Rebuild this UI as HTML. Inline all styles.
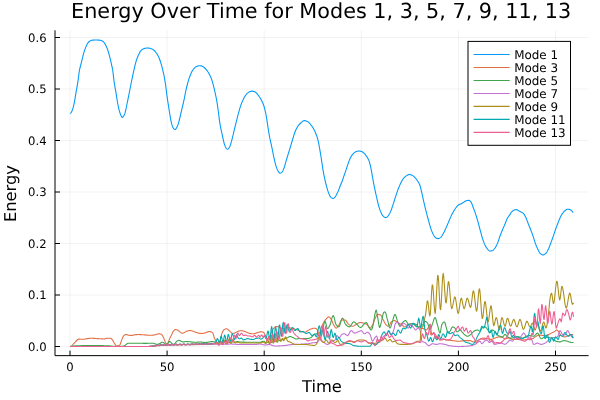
<!DOCTYPE html>
<html lang="en"><head><meta charset="utf-8"><title>Energy Over Time for Modes 1, 3, 5, 7, 9, 11, 13</title>
<style>
html,body{margin:0;padding:0;background:#fff;}
body{width:600px;height:400px;overflow:hidden;}
svg{display:block;will-change:transform;transform:translateZ(0);}
text{font-family:"DejaVu Sans","Liberation Sans",sans-serif;fill:#000;text-rendering:geometricPrecision;}
.grid line{stroke:#000;stroke-opacity:0.1;stroke-width:0.5;}
.axis line{stroke:#000;stroke-width:1;}
.series path{fill:none;stroke-width:1.08;stroke-linejoin:round;stroke-linecap:butt;}
</style></head><body>
<svg width="600" height="400" viewBox="0 0 600 400">
<rect x="0" y="0" width="600" height="400" fill="#ffffff"/>
<g class="grid">
<line x1="70.00" y1="30.3" x2="70.00" y2="355.65"/>
<line x1="167.10" y1="30.3" x2="167.10" y2="355.65"/>
<line x1="264.20" y1="30.3" x2="264.20" y2="355.65"/>
<line x1="361.30" y1="30.3" x2="361.30" y2="355.65"/>
<line x1="458.40" y1="30.3" x2="458.40" y2="355.65"/>
<line x1="555.50" y1="30.3" x2="555.50" y2="355.65"/>
<line x1="55.0" y1="346.50" x2="588.6" y2="346.50"/>
<line x1="55.0" y1="295.00" x2="588.6" y2="295.00"/>
<line x1="55.0" y1="243.50" x2="588.6" y2="243.50"/>
<line x1="55.0" y1="192.00" x2="588.6" y2="192.00"/>
<line x1="55.0" y1="140.50" x2="588.6" y2="140.50"/>
<line x1="55.0" y1="89.00" x2="588.6" y2="89.00"/>
<line x1="55.0" y1="37.50" x2="588.6" y2="37.50"/>
</g>
<clipPath id="pa"><rect x="55.0" y="30.3" width="533.6" height="325.3"/></clipPath>
<g class="series" clip-path="url(#pa)">
<path stroke="#009AFA" d="M70.2,113.6 L70.7,113.2 L71.2,112.5 L71.7,111.6 L72.2,110.6 L72.7,109.1 L73.2,107.3 L73.7,105.3 L74.2,103.1 L74.7,100.4 L75.2,97.4 L75.7,94.3 L76.2,91.4 L76.7,88.6 L77.2,85.8 L77.7,82.9 L78.2,79.6 L78.7,75.7 L79.2,71.8 L79.7,69.0 L80.2,67.0 L80.7,65.1 L81.2,63.2 L81.7,61.2 L82.2,59.2 L82.7,57.2 L83.2,55.1 L83.7,53.1 L84.2,51.4 L84.7,49.9 L85.2,48.7 L85.7,47.4 L86.2,46.1 L86.7,45.0 L87.2,44.0 L87.7,43.2 L88.2,42.5 L88.7,42.0 L89.2,41.5 L89.7,41.2 L90.2,40.9 L90.7,40.6 L91.2,40.4 L91.7,40.3 L92.2,40.2 L92.7,40.1 L93.2,40.1 L93.7,40.1 L94.2,40.0 L94.7,40.0 L95.2,40.0 L95.7,40.0 L96.2,40.0 L96.7,40.0 L97.2,40.0 L97.7,40.0 L98.2,40.1 L98.7,40.1 L99.2,40.1 L99.7,40.2 L100.2,40.3 L100.7,40.4 L101.2,40.6 L101.7,40.8 L102.2,41.0 L102.7,41.3 L103.2,41.7 L103.7,42.2 L104.2,42.7 L104.7,43.4 L105.2,44.3 L105.7,45.2 L106.2,46.2 L106.7,47.3 L107.2,48.5 L107.7,49.9 L108.2,51.5 L108.7,53.2 L109.2,54.9 L109.7,56.8 L110.2,58.8 L110.7,60.9 L111.2,63.2 L111.7,65.4 L112.2,67.5 L112.7,70.0 L113.2,73.9 L113.7,78.6 L114.2,82.4 L114.7,85.5 L115.2,88.4 L115.7,91.2 L116.2,94.2 L116.7,97.4 L117.2,100.5 L117.7,103.5 L118.2,106.0 L118.7,108.3 L119.2,110.4 L119.7,112.1 L120.2,113.5 L120.7,114.8 L121.2,116.0 L121.7,116.9 L122.2,117.4 L122.7,117.3 L123.2,116.7 L123.7,116.0 L124.2,115.1 L124.7,113.9 L125.2,112.4 L125.7,110.3 L126.2,108.0 L126.7,105.5 L127.2,103.0 L127.7,100.6 L128.2,98.1 L128.7,95.5 L129.2,93.0 L129.7,90.5 L130.2,88.0 L130.7,85.5 L131.2,83.0 L131.7,80.5 L132.2,78.1 L132.7,75.7 L133.2,73.4 L133.7,71.1 L134.2,68.9 L134.7,66.7 L135.2,64.7 L135.7,62.8 L136.2,61.0 L136.7,59.4 L137.2,58.0 L137.7,56.7 L138.2,55.5 L138.7,54.4 L139.2,53.4 L139.7,52.4 L140.2,51.6 L140.7,50.9 L141.2,50.3 L141.7,49.9 L142.2,49.5 L142.7,49.2 L143.2,48.9 L143.7,48.7 L144.2,48.5 L144.7,48.4 L145.2,48.3 L145.7,48.2 L146.2,48.1 L146.7,48.0 L147.2,48.0 L147.7,48.0 L148.2,48.0 L148.7,48.1 L149.2,48.2 L149.7,48.2 L150.2,48.3 L150.7,48.5 L151.2,48.7 L151.7,48.9 L152.2,49.1 L152.7,49.4 L153.2,49.7 L153.7,50.1 L154.2,50.5 L154.7,51.0 L155.2,51.5 L155.7,52.1 L156.2,52.8 L156.7,53.4 L157.2,54.2 L157.7,55.0 L158.2,55.9 L158.7,57.0 L159.2,58.2 L159.7,59.5 L160.2,61.0 L160.7,62.5 L161.2,64.2 L161.7,65.9 L162.2,67.8 L162.7,69.8 L163.2,71.9 L163.7,74.1 L164.2,76.5 L164.7,79.4 L165.2,82.4 L165.7,85.7 L166.2,89.6 L166.7,93.7 L167.2,97.4 L167.7,100.8 L168.2,104.0 L168.7,107.1 L169.2,110.3 L169.7,113.5 L170.2,116.7 L170.7,119.6 L171.2,121.8 L171.7,123.9 L172.2,125.7 L172.7,127.0 L173.2,127.9 L173.7,128.6 L174.2,129.1 L174.7,129.4 L175.2,129.5 L175.7,129.1 L176.2,128.4 L176.7,127.5 L177.2,126.6 L177.7,125.4 L178.2,124.0 L178.7,122.3 L179.2,120.5 L179.7,118.5 L180.2,116.3 L180.7,114.1 L181.2,112.0 L181.7,109.8 L182.2,107.6 L182.7,105.6 L183.2,103.5 L183.7,101.3 L184.2,99.1 L184.7,96.5 L185.2,93.9 L185.7,91.4 L186.2,89.1 L186.7,87.0 L187.2,85.0 L187.7,83.1 L188.2,81.3 L188.7,79.7 L189.2,78.2 L189.7,76.8 L190.2,75.5 L190.7,74.3 L191.2,73.1 L191.7,72.1 L192.2,71.1 L192.7,70.3 L193.2,69.5 L193.7,68.8 L194.2,68.3 L194.7,67.8 L195.2,67.3 L195.7,67.0 L196.2,66.7 L196.7,66.5 L197.2,66.2 L197.7,66.1 L198.2,66.0 L198.7,65.8 L199.2,65.8 L199.7,65.8 L200.2,65.8 L200.7,65.9 L201.2,65.9 L201.7,66.0 L202.2,66.2 L202.7,66.5 L203.2,66.8 L203.7,67.1 L204.2,67.5 L204.7,68.0 L205.2,68.5 L205.7,69.0 L206.2,69.6 L206.7,70.2 L207.2,70.8 L207.7,71.5 L208.2,72.2 L208.7,73.1 L209.2,73.9 L209.7,74.9 L210.2,75.9 L210.7,77.0 L211.2,78.2 L211.7,79.6 L212.2,81.2 L212.7,82.9 L213.2,84.7 L213.7,86.7 L214.2,88.7 L214.7,90.9 L215.2,93.1 L215.7,95.5 L216.2,97.9 L216.7,100.6 L217.2,103.5 L217.7,106.9 L218.2,110.7 L218.7,114.5 L219.2,118.4 L219.7,122.1 L220.2,125.2 L220.7,127.8 L221.2,130.2 L221.7,132.4 L222.2,134.7 L222.7,137.1 L223.2,139.4 L223.7,141.6 L224.2,143.5 L224.7,145.1 L225.2,146.4 L225.7,147.5 L226.2,148.3 L226.7,148.8 L227.2,149.2 L227.7,149.3 L228.2,148.9 L228.7,148.4 L229.2,147.7 L229.7,146.7 L230.2,145.5 L230.7,144.1 L231.2,142.4 L231.7,140.6 L232.2,138.7 L232.7,136.7 L233.2,134.5 L233.7,132.3 L234.2,130.2 L234.7,128.1 L235.2,126.1 L235.7,124.1 L236.2,122.1 L236.7,120.1 L237.2,118.1 L237.7,116.2 L238.2,114.2 L238.7,112.4 L239.2,110.6 L239.7,108.8 L240.2,107.1 L240.7,105.6 L241.2,104.2 L241.7,102.9 L242.2,101.7 L242.7,100.6 L243.2,99.5 L243.7,98.5 L244.2,97.5 L244.7,96.7 L245.2,95.9 L245.7,95.2 L246.2,94.5 L246.7,93.9 L247.2,93.4 L247.7,92.9 L248.2,92.6 L248.7,92.2 L249.2,91.9 L249.7,91.7 L250.2,91.5 L250.7,91.4 L251.2,91.2 L251.7,91.1 L252.2,91.1 L252.7,91.1 L253.2,91.2 L253.7,91.4 L254.2,91.5 L254.7,91.8 L255.2,92.0 L255.7,92.3 L256.2,92.8 L256.7,93.3 L257.2,93.9 L257.7,94.5 L258.2,95.1 L258.7,95.8 L259.2,96.5 L259.7,97.2 L260.2,98.0 L260.7,98.9 L261.2,99.7 L261.7,100.7 L262.2,101.7 L262.7,102.8 L263.2,104.0 L263.7,105.4 L264.2,107.0 L264.7,108.8 L265.2,110.9 L265.7,113.2 L266.2,115.8 L266.7,118.8 L267.2,122.1 L267.7,125.5 L268.2,128.7 L268.7,131.8 L269.2,134.8 L269.7,137.5 L270.2,139.9 L270.7,142.2 L271.2,144.4 L271.7,146.6 L272.2,149.0 L272.7,151.5 L273.2,154.1 L273.7,156.6 L274.2,158.9 L274.7,161.1 L275.2,163.2 L275.7,165.0 L276.2,166.6 L276.7,168.1 L277.2,169.4 L277.7,170.5 L278.2,171.3 L278.7,172.1 L279.2,172.7 L279.7,173.1 L280.2,173.2 L280.7,173.0 L281.2,172.7 L281.7,172.3 L282.2,171.8 L282.7,171.0 L283.2,169.9 L283.7,168.7 L284.2,167.5 L284.7,166.0 L285.2,164.2 L285.7,162.4 L286.2,160.7 L286.7,159.0 L287.2,157.4 L287.7,155.7 L288.2,154.1 L288.7,152.5 L289.2,150.8 L289.7,149.2 L290.2,147.5 L290.7,145.8 L291.2,144.1 L291.7,142.5 L292.2,140.8 L292.7,139.2 L293.2,137.5 L293.7,135.8 L294.2,134.2 L294.7,132.8 L295.2,131.5 L295.7,130.3 L296.2,129.2 L296.7,128.2 L297.2,127.3 L297.7,126.4 L298.2,125.7 L298.7,125.1 L299.2,124.5 L299.7,124.0 L300.2,123.5 L300.7,123.0 L301.2,122.6 L301.7,122.2 L302.2,121.8 L302.7,121.4 L303.2,121.0 L303.7,120.7 L304.2,120.6 L304.7,120.6 L305.2,120.7 L305.7,120.8 L306.2,121.0 L306.7,121.2 L307.2,121.4 L307.7,121.6 L308.2,121.9 L308.7,122.3 L309.2,122.8 L309.7,123.4 L310.2,124.0 L310.7,124.6 L311.2,125.3 L311.7,125.9 L312.2,126.6 L312.7,127.3 L313.2,128.1 L313.7,129.0 L314.2,129.9 L314.7,130.9 L315.2,132.0 L315.7,133.2 L316.2,134.5 L316.7,135.9 L317.2,137.4 L317.7,139.2 L318.2,141.2 L318.7,143.4 L319.2,146.0 L319.7,148.8 L320.2,151.8 L320.7,154.8 L321.2,158.0 L321.7,161.3 L322.2,164.7 L322.7,168.1 L323.2,171.1 L323.7,173.8 L324.2,176.3 L324.7,178.7 L325.2,180.9 L325.7,183.0 L326.2,185.0 L326.7,186.9 L327.2,188.7 L327.7,190.4 L328.2,191.9 L328.7,193.3 L329.2,194.4 L329.7,195.5 L330.2,196.4 L330.7,197.1 L331.2,197.6 L331.7,197.9 L332.2,198.2 L332.7,198.4 L333.2,198.4 L333.7,198.2 L334.2,197.8 L334.7,197.3 L335.2,196.8 L335.7,196.1 L336.2,195.3 L336.7,194.3 L337.2,193.3 L337.7,192.3 L338.2,191.2 L338.7,189.9 L339.2,188.6 L339.7,187.3 L340.2,186.0 L340.7,184.8 L341.2,183.5 L341.7,182.3 L342.2,181.0 L342.7,179.6 L343.2,178.2 L343.7,176.7 L344.2,175.3 L344.7,173.8 L345.2,172.4 L345.7,170.9 L346.2,169.4 L346.7,167.9 L347.2,166.4 L347.7,164.8 L348.2,163.3 L348.7,162.0 L349.2,160.6 L349.7,159.3 L350.2,158.2 L350.7,157.2 L351.2,156.4 L351.7,155.6 L352.2,154.9 L352.7,154.3 L353.2,153.7 L353.7,153.2 L354.2,152.8 L354.7,152.4 L355.2,152.1 L355.7,151.8 L356.2,151.6 L356.7,151.4 L357.2,151.3 L357.7,151.2 L358.2,151.1 L358.7,151.0 L359.2,151.0 L359.7,151.0 L360.2,151.1 L360.7,151.2 L361.2,151.4 L361.7,151.6 L362.2,151.8 L362.7,152.1 L363.2,152.5 L363.7,152.9 L364.2,153.4 L364.7,153.9 L365.2,154.5 L365.7,155.2 L366.2,155.9 L366.7,156.6 L367.2,157.3 L367.7,158.1 L368.2,159.0 L368.7,160.1 L369.2,161.4 L369.7,163.1 L370.2,165.1 L370.7,167.2 L371.2,169.7 L371.7,172.4 L372.2,175.1 L372.7,178.0 L373.2,180.9 L373.7,183.6 L374.2,186.1 L374.7,188.6 L375.2,190.9 L375.7,193.3 L376.2,195.5 L376.7,197.7 L377.2,199.9 L377.7,202.0 L378.2,204.1 L378.7,206.0 L379.2,207.6 L379.7,209.1 L380.2,210.5 L380.7,211.7 L381.2,212.8 L381.7,213.9 L382.2,214.9 L382.7,215.7 L383.2,216.2 L383.7,216.6 L384.2,217.0 L384.7,217.3 L385.2,217.5 L385.7,217.6 L386.2,217.5 L386.7,217.2 L387.2,216.8 L387.7,216.3 L388.2,215.8 L388.7,215.1 L389.2,214.3 L389.7,213.4 L390.2,212.4 L390.7,211.3 L391.2,210.1 L391.7,208.7 L392.2,207.2 L392.7,205.7 L393.2,204.2 L393.7,202.6 L394.2,201.0 L394.7,199.4 L395.2,197.8 L395.7,196.3 L396.2,194.8 L396.7,193.3 L397.2,191.8 L397.7,190.3 L398.2,189.0 L398.7,187.7 L399.2,186.6 L399.7,185.4 L400.2,184.3 L400.7,183.2 L401.2,182.2 L401.7,181.2 L402.2,180.3 L402.7,179.5 L403.2,178.8 L403.7,178.2 L404.2,177.7 L404.7,177.2 L405.2,176.7 L405.7,176.3 L406.2,175.9 L406.7,175.6 L407.2,175.3 L407.7,175.0 L408.2,174.8 L408.7,174.6 L409.2,174.5 L409.7,174.5 L410.2,174.6 L410.7,174.7 L411.2,174.9 L411.7,175.1 L412.2,175.3 L412.7,175.6 L413.2,175.9 L413.7,176.3 L414.2,176.8 L414.7,177.3 L415.2,177.8 L415.7,178.4 L416.2,179.0 L416.7,179.7 L417.2,180.4 L417.7,181.2 L418.2,181.9 L418.7,182.8 L419.2,183.7 L419.7,184.8 L420.2,186.2 L420.7,188.1 L421.2,190.2 L421.7,192.4 L422.2,194.6 L422.7,196.9 L423.2,199.2 L423.7,201.4 L424.2,203.6 L424.7,205.7 L425.2,207.8 L425.7,209.8 L426.2,211.8 L426.7,213.7 L427.2,215.6 L427.7,217.5 L428.2,219.3 L428.7,221.1 L429.2,222.9 L429.7,224.8 L430.2,226.5 L430.7,228.1 L431.2,229.6 L431.7,230.9 L432.2,232.1 L432.7,233.3 L433.2,234.3 L433.7,235.2 L434.2,236.0 L434.7,236.7 L435.2,237.4 L435.7,237.8 L436.2,238.1 L436.7,238.3 L437.2,238.4 L437.7,238.5 L438.2,238.6 L438.7,238.6 L439.2,238.4 L439.7,238.1 L440.2,237.7 L440.7,237.3 L441.2,236.8 L441.7,236.2 L442.2,235.5 L442.7,234.6 L443.2,233.7 L443.7,232.8 L444.2,231.9 L444.7,230.8 L445.2,229.7 L445.7,228.6 L446.2,227.4 L446.7,226.3 L447.2,225.2 L447.7,224.0 L448.2,222.9 L448.7,221.7 L449.2,220.5 L449.7,219.3 L450.2,218.1 L450.7,217.0 L451.2,215.8 L451.7,214.8 L452.2,213.8 L452.7,212.9 L453.2,212.0 L453.7,211.1 L454.2,210.3 L454.7,209.5 L455.2,208.8 L455.7,208.0 L456.2,207.4 L456.7,206.7 L457.2,206.2 L457.7,205.7 L458.2,205.2 L458.7,204.8 L459.2,204.5 L459.7,204.3 L460.2,204.1 L460.7,204.0 L461.2,203.8 L461.7,203.5 L462.2,203.3 L462.7,202.9 L463.2,202.5 L463.7,202.2 L464.2,201.9 L464.7,201.5 L465.2,201.2 L465.7,200.9 L466.2,200.7 L466.7,200.6 L467.2,200.5 L467.7,200.5 L468.2,200.4 L468.7,200.4 L469.2,200.4 L469.7,200.7 L470.2,201.1 L470.7,201.6 L471.2,202.3 L471.7,203.4 L472.2,204.7 L472.7,206.2 L473.2,207.5 L473.7,208.8 L474.2,210.1 L474.7,211.4 L475.2,212.8 L475.7,214.3 L476.2,215.9 L476.7,217.5 L477.2,219.2 L477.7,220.9 L478.2,222.7 L478.7,224.6 L479.2,226.5 L479.7,228.4 L480.2,230.3 L480.7,232.1 L481.2,233.9 L481.7,235.8 L482.2,237.5 L482.7,239.1 L483.2,240.6 L483.7,241.9 L484.2,243.2 L484.7,244.4 L485.2,245.4 L485.7,246.4 L486.2,247.2 L486.7,248.0 L487.2,248.7 L487.7,249.3 L488.2,249.8 L488.7,250.3 L489.2,250.7 L489.7,251.0 L490.2,251.0 L490.7,251.0 L491.2,250.9 L491.7,250.8 L492.2,250.7 L492.7,250.5 L493.2,250.1 L493.7,249.6 L494.2,249.0 L494.7,248.4 L495.2,247.7 L495.7,246.9 L496.2,246.0 L496.7,245.0 L497.2,243.9 L497.7,242.8 L498.2,241.4 L498.7,239.9 L499.2,238.4 L499.7,236.8 L500.2,235.5 L500.7,234.2 L501.2,232.9 L501.7,231.7 L502.2,230.5 L502.7,229.3 L503.2,228.1 L503.7,227.0 L504.2,225.9 L504.7,224.7 L505.2,223.5 L505.7,222.2 L506.2,220.9 L506.7,219.6 L507.2,218.6 L507.7,217.8 L508.2,217.0 L508.7,216.3 L509.2,215.6 L509.7,214.9 L510.2,214.1 L510.7,213.3 L511.2,212.5 L511.7,211.9 L512.2,211.4 L512.7,211.0 L513.2,210.6 L513.7,210.3 L514.2,210.1 L514.7,209.9 L515.2,209.8 L515.7,209.7 L516.2,209.6 L516.7,209.6 L517.2,209.8 L517.7,210.1 L518.2,210.5 L518.7,210.8 L519.2,211.1 L519.7,211.3 L520.2,211.6 L520.7,211.8 L521.2,212.1 L521.7,212.4 L522.2,212.6 L522.7,212.9 L523.2,213.3 L523.7,213.7 L524.2,214.4 L524.7,215.2 L525.2,216.2 L525.7,217.2 L526.2,218.3 L526.7,219.6 L527.2,220.9 L527.7,222.2 L528.2,223.5 L528.7,224.7 L529.2,226.0 L529.7,227.2 L530.2,228.5 L530.7,229.8 L531.2,231.1 L531.7,232.4 L532.2,233.8 L532.7,235.1 L533.2,236.6 L533.7,238.1 L534.2,239.7 L534.7,241.4 L535.2,242.9 L535.7,244.3 L536.2,245.6 L536.7,246.8 L537.2,247.9 L537.7,249.0 L538.2,250.0 L538.7,251.0 L539.2,251.9 L539.7,252.8 L540.2,253.4 L540.7,253.8 L541.2,254.2 L541.7,254.6 L542.2,254.8 L542.7,255.0 L543.2,255.0 L543.7,254.9 L544.2,254.6 L544.7,254.3 L545.2,253.9 L545.7,253.5 L546.2,253.0 L546.7,252.3 L547.2,251.5 L547.7,250.6 L548.2,249.6 L548.7,248.5 L549.2,247.2 L549.7,245.9 L550.2,244.5 L550.7,243.2 L551.2,241.9 L551.7,240.6 L552.2,239.2 L552.7,237.8 L553.2,236.4 L553.7,234.9 L554.2,233.4 L554.7,231.9 L555.2,230.4 L555.7,229.0 L556.2,227.7 L556.7,226.4 L557.2,225.0 L557.7,223.7 L558.2,222.4 L558.7,221.1 L559.2,219.8 L559.7,218.7 L560.2,217.6 L560.7,216.6 L561.2,215.6 L561.7,214.7 L562.2,213.9 L562.7,213.2 L563.2,212.5 L563.7,211.9 L564.2,211.3 L564.7,210.8 L565.2,210.5 L565.7,210.1 L566.2,209.7 L566.7,209.4 L567.2,209.3 L567.7,209.2 L568.2,209.2 L568.7,209.3 L569.2,209.4 L569.7,209.5 L570.2,209.7 L570.7,210.0 L571.2,210.4 L571.7,210.9 L572.2,211.4 L572.7,212.0 L573.2,212.6"/>
<path stroke="#E36F47" d="M70.2,346.5 L70.7,346.4 L71.2,346.2 L71.7,345.9 L72.2,345.4 L72.7,344.8 L73.2,344.3 L73.7,343.7 L74.2,343.2 L74.7,342.6 L75.2,342.1 L75.7,341.5 L76.2,341.0 L76.7,340.5 L77.2,340.0 L77.7,339.5 L78.2,339.2 L78.7,339.1 L79.2,339.1 L79.7,339.1 L80.2,339.2 L80.7,339.2 L81.2,339.2 L81.7,339.2 L82.2,339.3 L82.7,339.3 L83.2,339.3 L83.7,339.3 L84.2,339.3 L84.7,339.2 L85.2,339.0 L85.7,338.9 L86.2,338.8 L86.7,338.7 L87.2,338.6 L87.7,338.6 L88.2,338.5 L88.7,338.4 L89.2,338.4 L89.7,338.3 L90.2,338.3 L90.7,338.3 L91.2,338.3 L91.7,338.3 L92.2,338.3 L92.7,338.3 L93.2,338.4 L93.7,338.4 L94.2,338.4 L94.7,338.4 L95.2,338.5 L95.7,338.5 L96.2,338.5 L96.7,338.5 L97.2,338.6 L97.7,338.6 L98.2,338.6 L98.7,338.7 L99.2,338.7 L99.7,338.7 L100.2,338.7 L100.7,338.8 L101.2,338.8 L101.7,338.9 L102.2,338.9 L102.7,338.9 L103.2,339.0 L103.7,339.0 L104.2,339.0 L104.7,338.9 L105.2,338.7 L105.7,338.6 L106.2,338.5 L106.7,338.4 L107.2,338.3 L107.7,338.2 L108.2,338.2 L108.7,338.2 L109.2,338.2 L109.7,338.2 L110.2,338.2 L110.7,338.2 L111.2,338.5 L111.7,339.0 L112.2,339.6 L112.7,340.3 L113.2,341.1 L113.7,342.1 L114.2,343.0 L114.7,343.8 L115.2,344.6 L115.7,345.3 L116.2,345.7 L116.7,345.8 L117.2,345.8 L117.7,345.8 L118.2,345.8 L118.7,345.8 L119.2,345.6 L119.7,345.3 L120.2,344.3 L120.7,342.8 L121.2,341.5 L121.7,340.1 L122.2,338.7 L122.7,337.6 L123.2,336.6 L123.7,335.8 L124.2,335.3 L124.7,335.0 L125.2,334.7 L125.7,334.5 L126.2,334.5 L126.7,334.6 L127.2,334.8 L127.7,334.9 L128.2,335.0 L128.7,335.2 L129.2,335.3 L129.7,335.4 L130.2,335.4 L130.7,335.5 L131.2,335.5 L131.7,335.4 L132.2,335.4 L132.7,335.3 L133.2,335.1 L133.7,335.0 L134.2,335.0 L134.7,334.9 L135.2,334.8 L135.7,334.7 L136.2,334.6 L136.7,334.6 L137.2,334.5 L137.7,334.5 L138.2,334.5 L138.7,334.5 L139.2,334.5 L139.7,334.6 L140.2,334.6 L140.7,334.6 L141.2,334.6 L141.7,334.7 L142.2,334.7 L142.7,334.7 L143.2,334.8 L143.7,334.8 L144.2,334.9 L144.7,334.9 L145.2,334.9 L145.7,335.0 L146.2,335.0 L146.7,335.1 L147.2,335.1 L147.7,335.2 L148.2,335.2 L148.7,335.2 L149.2,335.3 L149.7,335.3 L150.2,335.3 L150.7,335.3 L151.2,335.3 L151.7,335.2 L152.2,335.2 L152.7,335.1 L153.2,335.1 L153.7,335.0 L154.2,335.0 L154.7,334.9 L155.2,334.7 L155.7,334.6 L156.2,334.4 L156.7,334.3 L157.2,334.2 L157.7,334.1 L158.2,333.9 L158.7,333.9 L159.2,333.8 L159.7,333.8 L160.2,333.9 L160.7,334.1 L161.2,334.3 L161.7,334.6 L162.2,335.2 L162.7,336.0 L163.2,336.9 L163.7,338.0 L164.2,339.3 L164.7,340.5 L165.2,341.9 L165.7,343.0 L166.2,343.7 L166.7,344.1 L167.2,344.1 L167.7,343.5 L168.2,342.6 L168.7,341.3 L169.2,339.8 L169.7,338.6 L170.2,337.5 L170.7,336.5 L171.2,335.6 L171.7,334.6 L172.2,333.5 L172.7,332.3 L173.2,331.4 L173.7,330.8 L174.2,330.3 L174.7,329.8 L175.2,329.5 L175.7,329.5 L176.2,329.6 L176.7,329.7 L177.2,329.9 L177.7,330.1 L178.2,330.4 L178.7,330.9 L179.2,331.4 L179.7,331.8 L180.2,332.1 L180.7,332.4 L181.2,332.8 L181.7,333.0 L182.2,333.2 L182.7,333.2 L183.2,333.1 L183.7,332.9 L184.2,332.6 L184.7,332.3 L185.2,332.1 L185.7,331.9 L186.2,331.6 L186.7,331.3 L187.2,331.1 L187.7,330.9 L188.2,330.8 L188.7,330.7 L189.2,330.6 L189.7,330.5 L190.2,330.5 L190.7,330.6 L191.2,330.7 L191.7,330.8 L192.2,330.9 L192.7,331.1 L193.2,331.2 L193.7,331.4 L194.2,331.7 L194.7,331.9 L195.2,332.1 L195.7,332.3 L196.2,332.4 L196.7,332.6 L197.2,332.8 L197.7,332.9 L198.2,333.0 L198.7,333.2 L199.2,333.3 L199.7,333.4 L200.2,333.4 L200.7,333.5 L201.2,333.5 L201.7,333.5 L202.2,333.4 L202.7,333.4 L203.2,333.3 L203.7,333.2 L204.2,333.2 L204.7,333.0 L205.2,332.9 L205.7,332.7 L206.2,332.5 L206.7,332.3 L207.2,332.1 L207.7,332.0 L208.2,331.8 L208.7,331.6 L209.2,331.5 L209.7,331.5 L210.2,331.6 L210.7,331.7 L211.2,331.9 L211.7,332.1 L212.2,332.4 L212.7,333.0 L213.2,333.8 L213.7,335.7 L214.2,337.8 L214.7,338.8 L215.2,339.7 L215.7,341.0 L216.2,342.1 L216.7,342.8 L217.2,343.3 L217.7,343.5 L218.2,343.6 L218.7,343.5 L219.2,343.2 L219.7,342.7 L220.2,341.2 L220.7,339.1 L221.2,336.4 L221.7,334.3 L222.2,332.8 L222.7,331.6 L223.2,330.8 L223.7,330.2 L224.2,329.7 L224.7,329.4 L225.2,329.1 L225.7,328.8 L226.2,328.7 L226.7,328.7 L227.2,328.9 L227.7,329.3 L228.2,329.7 L228.7,330.1 L229.2,330.7 L229.7,331.2 L230.2,331.7 L230.7,332.1 L231.2,332.6 L231.7,333.0 L232.2,333.2 L232.7,333.2 L233.2,333.2 L233.7,333.2 L234.2,333.2 L234.7,333.1 L235.2,332.8 L235.7,332.5 L236.2,332.2 L236.7,331.9 L237.2,331.7 L237.7,331.4 L238.2,331.2 L238.7,331.1 L239.2,331.0 L239.7,330.9 L240.2,330.8 L240.7,330.8 L241.2,330.8 L241.7,330.8 L242.2,330.8 L242.7,330.9 L243.2,331.0 L243.7,331.1 L244.2,331.3 L244.7,331.4 L245.2,331.6 L245.7,331.9 L246.2,332.1 L246.7,332.3 L247.2,332.5 L247.7,332.7 L248.2,332.9 L248.7,333.1 L249.2,333.3 L249.7,333.4 L250.2,333.5 L250.7,333.6 L251.2,333.7 L251.7,333.7 L252.2,333.8 L252.7,333.8 L253.2,333.8 L253.7,333.7 L254.2,333.7 L254.7,333.5 L255.2,333.4 L255.7,333.3 L256.2,333.1 L256.7,333.0 L257.2,332.8 L257.7,332.6 L258.2,332.4 L258.7,332.3 L259.2,332.2 L259.7,332.0 L260.2,331.9 L260.7,331.9 L261.2,331.8 L261.7,331.8 L262.2,331.9 L262.7,332.1 L263.2,332.3 L263.7,332.6 L264.2,333.2 L264.7,334.0 L265.2,334.9 L265.7,335.9 L266.2,337.0 L266.7,337.8 L267.2,338.4 L267.7,338.9 L268.2,338.9 L268.7,338.5 L269.2,337.6 L269.7,336.6 L270.2,335.6 L270.7,334.3 L271.2,332.9 L271.7,331.6 L272.2,330.6 L272.7,329.7 L273.2,328.9 L273.7,328.3 L274.2,327.8 L274.7,327.4 L275.2,327.0 L275.7,326.7 L276.2,326.5 L276.7,326.5 L277.2,326.6 L277.7,326.7 L278.2,326.8 L278.7,326.9 L279.2,327.1 L279.7,327.3 L280.2,327.6 L280.7,328.0 L281.2,328.3 L281.7,328.5 L282.2,328.5 L282.7,328.5 L283.2,328.5 L283.7,328.5 L284.2,328.5 L284.7,328.5 L285.2,328.5 L285.7,328.4 L286.2,328.1 L286.7,327.9 L287.2,327.7 L287.7,327.5 L288.2,327.5 L288.7,327.6 L289.2,327.8 L289.7,327.9 L290.2,328.0 L290.7,328.1 L291.2,328.2 L291.7,328.3 L292.2,328.3 L292.7,328.4 L293.2,328.5 L293.7,328.7 L294.2,328.8 L294.7,329.0 L295.2,329.2 L295.7,329.4 L296.2,329.6 L296.7,329.8 L297.2,329.9 L297.7,330.1 L298.2,330.3 L298.7,330.5 L299.2,330.7 L299.7,330.9 L300.2,331.1 L300.7,331.3 L301.2,331.5 L301.7,331.6 L302.2,331.8 L302.7,331.9 L303.2,332.0 L303.7,332.1 L304.2,332.2 L304.7,332.2 L305.2,332.2 L305.7,332.0 L306.2,331.8 L306.7,331.4 L307.2,331.0 L307.7,330.7 L308.2,330.4 L308.7,330.1 L309.2,329.8 L309.7,329.6 L310.2,329.3 L310.7,329.1 L311.2,328.9 L311.7,328.7 L312.2,328.6 L312.7,328.4 L313.2,328.3 L313.7,328.2 L314.2,328.2 L314.7,328.2 L315.2,328.3 L315.7,328.4 L316.2,328.6 L316.7,329.0 L317.2,329.6 L317.7,330.5 L318.2,332.4 L318.7,333.7 L319.2,333.4 L319.7,332.6 L320.2,331.5 L320.7,329.8 L321.2,327.9 L321.7,326.5 L322.2,325.4 L322.7,324.4 L323.2,323.5 L323.7,322.6 L324.2,321.7 L324.7,320.9 L325.2,320.1 L325.7,319.4 L326.2,318.8 L326.7,318.3 L327.2,317.8 L327.7,317.4 L328.2,317.0 L328.7,316.9 L329.2,317.0 L329.7,317.4 L330.2,318.0 L330.7,318.6 L331.2,319.3 L331.7,320.2 L332.2,321.4 L332.7,322.7 L333.2,323.9 L333.7,324.9 L334.2,325.7 L334.7,326.6 L335.2,327.3 L335.7,327.9 L336.2,328.1 L336.7,327.9 L337.2,327.4 L337.7,326.7 L338.2,325.8 L338.7,325.1 L339.2,324.3 L339.7,323.3 L340.2,322.2 L340.7,321.2 L341.2,320.5 L341.7,320.0 L342.2,320.0 L342.7,320.0 L343.2,320.0 L343.7,320.0 L344.2,320.0 L344.7,320.0 L345.2,320.0 L345.7,320.3 L346.2,320.9 L346.7,321.6 L347.2,322.4 L347.7,323.2 L348.2,323.9 L348.7,324.4 L349.2,324.7 L349.7,325.1 L350.2,325.4 L350.7,325.7 L351.2,325.9 L351.7,326.1 L352.2,326.2 L352.7,326.2 L353.2,326.1 L353.7,325.9 L354.2,325.7 L354.7,325.4 L355.2,325.0 L355.7,324.7 L356.2,324.4 L356.7,324.2 L357.2,323.8 L357.7,323.5 L358.2,323.2 L358.7,322.9 L359.2,322.7 L359.7,322.5 L360.2,322.5 L360.7,322.5 L361.2,322.6 L361.7,322.7 L362.2,322.7 L362.7,322.9 L363.2,323.0 L363.7,323.1 L364.2,323.2 L364.7,323.4 L365.2,323.6 L365.7,323.9 L366.2,324.1 L366.7,324.4 L367.2,324.8 L367.7,325.2 L368.2,325.9 L368.7,326.7 L369.2,327.5 L369.7,328.0 L370.2,328.1 L370.7,327.7 L371.2,327.2 L371.7,326.4 L372.2,325.7 L372.7,324.7 L373.2,323.4 L373.7,322.0 L374.2,320.7 L374.7,319.4 L375.2,318.3 L375.7,317.2 L376.2,316.1 L376.7,315.1 L377.2,314.5 L377.7,314.4 L378.2,314.4 L378.7,314.5 L379.2,314.6 L379.7,314.7 L380.2,314.9 L380.7,315.0 L381.2,315.6 L381.7,316.5 L382.2,317.6 L382.7,318.7 L383.2,319.7 L383.7,320.6 L384.2,321.7 L384.7,322.7 L385.2,323.6 L385.7,324.4 L386.2,325.0 L386.7,325.3 L387.2,325.7 L387.7,326.0 L388.2,326.2 L388.7,326.2 L389.2,325.9 L389.7,325.0 L390.2,323.8 L390.7,322.7 L391.2,321.9 L391.7,321.6 L392.2,321.3 L392.7,321.0 L393.2,320.8 L393.7,320.7 L394.2,320.6 L394.7,320.6 L395.2,320.8 L395.7,321.1 L396.2,321.5 L396.7,321.9 L397.2,322.3 L397.7,322.6 L398.2,322.9 L398.7,323.1 L399.2,323.4 L399.7,323.6 L400.2,323.8 L400.7,324.1 L401.2,324.4 L401.7,324.7 L402.2,325.1 L402.7,325.5 L403.2,326.0 L403.7,326.4 L404.2,326.7 L404.7,326.9 L405.2,326.9 L405.7,326.7 L406.2,326.4 L406.7,325.9 L407.2,325.5 L407.7,325.0 L408.2,324.7 L408.7,324.4 L409.2,324.3 L409.7,324.2 L410.2,324.0 L410.7,323.9 L411.2,323.8 L411.7,323.8 L412.2,323.8 L412.7,323.8 L413.2,323.9 L413.7,324.2 L414.2,324.6 L414.7,325.0 L415.2,325.5 L415.7,325.9 L416.2,326.2 L416.7,326.5 L417.2,326.8 L417.7,327.1 L418.2,327.4 L418.7,327.6 L419.2,327.8 L419.7,328.0 L420.2,328.1 L420.7,328.3 L421.2,328.3 L421.7,328.4 L422.2,328.5 L422.7,328.5 L423.2,328.6 L423.7,328.7 L424.2,328.9 L424.7,329.3 L425.2,329.6 L425.7,329.9 L426.2,330.0 L426.7,329.8 L427.2,329.2 L427.7,328.5 L428.2,327.8 L428.7,327.5 L429.2,328.1 L429.7,329.9 L430.2,332.1 L430.7,334.1 L431.2,335.0 L431.7,334.8 L432.2,334.4 L432.7,333.8 L433.2,333.3 L433.7,333.1 L434.2,333.2 L434.7,333.7 L435.2,334.3 L435.7,335.0 L436.2,335.8 L436.7,336.6 L437.2,337.2 L437.7,337.7 L438.2,338.1 L438.7,338.6 L439.2,339.0 L439.7,339.4 L440.2,339.7 L440.7,339.9 L441.2,340.0 L441.7,340.0 L442.2,339.8 L442.7,339.7 L443.2,339.5 L443.7,339.4 L444.2,339.4 L444.7,339.4 L445.2,339.5 L445.7,339.6 L446.2,339.7 L446.7,339.9 L447.2,340.0 L447.7,340.0 L448.2,340.1 L448.7,340.2 L449.2,340.2 L449.7,340.3 L450.2,340.3 L450.7,340.4 L451.2,340.5 L451.7,340.5 L452.2,340.6 L452.7,340.6 L453.2,340.7 L453.7,340.8 L454.2,340.8 L454.7,340.9 L455.2,341.0 L455.7,341.0 L456.2,341.1 L456.7,341.1 L457.2,341.2 L457.7,341.2 L458.2,341.2 L458.7,341.2 L459.2,341.2 L459.7,341.2 L460.2,341.2 L460.7,341.1 L461.2,341.0 L461.7,341.0 L462.2,340.9 L462.7,340.8 L463.2,340.7 L463.7,340.7 L464.2,340.6 L464.7,340.6 L465.2,340.6 L465.7,340.6 L466.2,340.6 L466.7,340.6 L467.2,340.6 L467.7,340.6 L468.2,340.6 L468.7,340.6 L469.2,340.6 L469.7,340.6 L470.2,340.6 L470.7,340.7 L471.2,340.9 L471.7,341.2 L472.2,341.4 L472.7,341.7 L473.2,341.8 L473.7,341.9 L474.2,341.9 L474.7,341.8 L475.2,341.6 L475.7,341.4 L476.2,341.3 L476.7,341.1 L477.2,340.9 L477.7,340.6 L478.2,340.3 L478.7,340.0 L479.2,339.8 L479.7,339.5 L480.2,339.3 L480.7,339.1 L481.2,338.9 L481.7,338.6 L482.2,338.4 L482.7,338.3 L483.2,338.1 L483.7,338.1 L484.2,338.1 L484.7,338.2 L485.2,338.3 L485.7,338.4 L486.2,338.5 L486.7,338.6 L487.2,338.7 L487.7,338.8 L488.2,338.9 L488.7,339.0 L489.2,339.1 L489.7,339.2 L490.2,339.3 L490.7,339.4 L491.2,339.4 L491.7,339.4 L492.2,339.3 L492.7,339.1 L493.2,338.9 L493.7,338.6 L494.2,338.4 L494.7,338.2 L495.2,338.0 L495.7,337.8 L496.2,337.6 L496.7,337.4 L497.2,337.2 L497.7,337.1 L498.2,336.9 L498.7,336.9 L499.2,336.9 L499.7,337.0 L500.2,337.0 L500.7,337.1 L501.2,337.2 L501.7,337.3 L502.2,337.4 L502.7,337.6 L503.2,337.8 L503.7,338.2 L504.2,338.5 L504.7,338.7 L505.2,338.7 L505.7,338.7 L506.2,338.6 L506.7,338.5 L507.2,338.3 L507.7,338.2 L508.2,338.1 L508.7,338.1 L509.2,338.2 L509.7,338.3 L510.2,338.5 L510.7,338.8 L511.2,339.0 L511.7,339.2 L512.2,339.4 L512.7,339.4 L513.2,339.4 L513.7,339.4 L514.2,339.4 L514.7,339.4 L515.2,339.4 L515.7,339.4 L516.2,339.4 L516.7,339.4 L517.2,339.4 L517.7,339.4 L518.2,339.4 L518.7,339.5 L519.2,339.6 L519.7,339.6 L520.2,339.7 L520.7,339.8 L521.2,339.9 L521.7,340.0 L522.2,340.0 L522.7,340.0 L523.2,340.0 L523.7,339.9 L524.2,339.9 L524.7,339.8 L525.2,339.7 L525.7,339.7 L526.2,339.6 L526.7,339.5 L527.2,339.4 L527.7,339.4 L528.2,339.3 L528.7,339.3 L529.2,339.2 L529.7,339.2 L530.2,339.1 L530.7,339.1 L531.2,339.0 L531.7,338.9 L532.2,338.8 L532.7,338.7 L533.2,338.5 L533.7,338.1 L534.2,337.7 L534.7,337.3 L535.2,336.9 L535.7,336.6 L536.2,336.3 L536.7,336.0 L537.2,335.8 L537.7,335.6 L538.2,335.4 L538.7,335.2 L539.2,335.1 L539.7,335.0 L540.2,335.0 L540.7,335.1 L541.2,335.1 L541.7,335.3 L542.2,335.4 L542.7,335.5 L543.2,335.6 L543.7,335.6 L544.2,335.6 L544.7,335.5 L545.2,335.5 L545.7,335.4 L546.2,335.3 L546.7,335.2 L547.2,335.1 L547.7,334.9 L548.2,334.8 L548.7,334.5 L549.2,334.3 L549.7,334.0 L550.2,333.7 L550.7,333.4 L551.2,333.1 L551.7,332.9 L552.2,332.6 L552.7,332.4 L553.2,332.2 L553.7,331.9 L554.2,331.7 L554.7,331.4 L555.2,331.1 L555.7,330.7 L556.2,330.3 L556.7,330.0 L557.2,330.1 L557.7,330.5 L558.2,331.2 L558.7,331.8 L559.2,332.5 L559.7,333.4 L560.2,334.3 L560.7,335.1 L561.2,335.6 L561.7,335.9 L562.2,336.1 L562.7,336.4 L563.2,336.6 L563.7,336.7 L564.2,336.8 L564.7,336.9 L565.2,336.9 L565.7,336.8 L566.2,336.7 L566.7,336.5 L567.2,336.2 L567.7,336.0 L568.2,335.8 L568.7,335.6 L569.2,335.5 L569.7,335.3 L570.2,335.2 L570.7,335.0 L571.2,334.9 L571.7,334.8 L572.2,334.6 L572.7,334.5 L573.1,334.4"/>
<path stroke="#3EA44E" d="M70.2,346.5 L70.7,346.4 L71.2,346.3 L71.7,346.3 L72.2,346.2 L72.7,346.1 L73.2,346.1 L73.7,346.0 L74.2,346.0 L74.7,345.9 L75.2,345.9 L75.7,345.9 L76.2,345.8 L76.7,345.8 L77.2,345.8 L77.7,345.8 L78.2,345.8 L78.7,345.7 L79.2,345.7 L79.7,345.7 L80.2,345.7 L80.7,345.7 L81.2,345.7 L81.7,345.6 L82.2,345.6 L82.7,345.6 L83.2,345.6 L83.7,345.6 L84.2,345.6 L84.7,345.6 L85.2,345.6 L85.7,345.6 L86.2,345.6 L86.7,345.6 L87.2,345.6 L87.7,345.6 L88.2,345.6 L88.7,345.6 L89.2,345.6 L89.7,345.6 L90.2,345.6 L90.7,345.6 L91.2,345.6 L91.7,345.6 L92.2,345.6 L92.7,345.6 L93.2,345.6 L93.7,345.6 L94.2,345.6 L94.7,345.6 L95.2,345.6 L95.7,345.6 L96.2,345.6 L96.7,345.6 L97.2,345.6 L97.7,345.6 L98.2,345.6 L98.7,345.6 L99.2,345.6 L99.7,345.6 L100.2,345.6 L100.7,345.6 L101.2,345.6 L101.7,345.6 L102.2,345.6 L102.7,345.6 L103.2,345.6 L103.7,345.7 L104.2,345.7 L104.7,345.7 L105.2,345.7 L105.7,345.7 L106.2,345.7 L106.7,345.7 L107.2,345.8 L107.7,345.8 L108.2,345.8 L108.7,345.8 L109.2,345.9 L109.7,345.9 L110.2,346.0 L110.7,346.0 L111.2,346.1 L111.7,346.1 L112.2,346.2 L112.7,346.2 L113.2,346.2 L113.7,346.3 L114.2,346.3 L114.7,346.3 L115.2,346.4 L115.7,346.4 L116.2,346.4 L116.7,346.4 L117.2,346.5 L117.7,346.5 L118.2,346.5 L118.7,346.5 L119.2,346.5 L119.7,346.5 L120.2,346.5 L120.7,346.4 L121.2,346.4 L121.7,346.4 L122.2,346.3 L122.7,346.2 L123.2,346.2 L123.7,346.0 L124.2,345.9 L124.7,345.6 L125.2,345.4 L125.7,344.9 L126.2,344.4 L126.7,344.0 L127.2,343.7 L127.7,343.4 L128.2,343.3 L128.7,343.3 L129.2,343.3 L129.7,343.3 L130.2,343.3 L130.7,343.3 L131.2,343.3 L131.7,343.3 L132.2,343.3 L132.7,343.3 L133.2,343.3 L133.7,343.3 L134.2,343.3 L134.7,343.2 L135.2,343.2 L135.7,343.2 L136.2,343.2 L136.7,343.2 L137.2,343.2 L137.7,343.2 L138.2,343.2 L138.7,343.2 L139.2,343.2 L139.7,343.2 L140.2,343.2 L140.7,343.3 L141.2,343.3 L141.7,343.3 L142.2,343.3 L142.7,343.3 L143.2,343.4 L143.7,343.4 L144.2,343.4 L144.7,343.4 L145.2,343.4 L145.7,343.4 L146.2,343.4 L146.7,343.4 L147.2,343.4 L147.7,343.3 L148.2,343.3 L148.7,343.3 L149.2,343.3 L149.7,343.3 L150.2,343.3 L150.7,343.2 L151.2,343.2 L151.7,343.2 L152.2,343.2 L152.7,343.2 L153.2,343.2 L153.7,343.3 L154.2,343.5 L154.7,343.7 L155.2,343.9 L155.7,344.1 L156.2,344.3 L156.7,344.4 L157.2,344.4 L157.7,344.3 L158.2,344.2 L158.7,344.0 L159.2,343.8 L159.7,343.6 L160.2,343.4 L160.7,343.0 L161.2,342.6 L161.7,342.3 L162.2,342.2 L162.7,342.3 L163.2,342.6 L163.7,342.8 L164.2,343.1 L164.7,343.6 L165.2,344.1 L165.7,344.4 L166.2,344.5 L166.7,344.2 L167.2,343.8 L167.7,343.3 L168.2,342.8 L168.7,342.2 L169.2,341.6 L169.7,341.5 L170.2,341.8 L170.7,342.2 L171.2,342.7 L171.7,343.3 L172.2,343.9 L172.7,344.4 L173.2,344.5 L173.7,344.3 L174.2,344.1 L174.7,343.7 L175.2,343.3 L175.7,342.7 L176.2,341.9 L176.7,341.3 L177.2,340.9 L177.7,340.6 L178.2,340.4 L178.7,340.2 L179.2,340.2 L179.7,340.4 L180.2,340.7 L180.7,341.0 L181.2,341.3 L181.7,341.6 L182.2,341.8 L182.7,342.0 L183.2,342.0 L183.7,341.9 L184.2,341.8 L184.7,341.7 L185.2,341.6 L185.7,341.5 L186.2,341.5 L186.7,341.5 L187.2,341.5 L187.7,341.6 L188.2,341.6 L188.7,341.7 L189.2,341.7 L189.7,341.8 L190.2,341.8 L190.7,341.9 L191.2,341.9 L191.7,342.0 L192.2,342.1 L192.7,342.1 L193.2,342.2 L193.7,342.2 L194.2,342.3 L194.7,342.3 L195.2,342.3 L195.7,342.3 L196.2,342.3 L196.7,342.2 L197.2,342.2 L197.7,342.1 L198.2,342.1 L198.7,342.1 L199.2,342.0 L199.7,342.0 L200.2,342.0 L200.7,342.0 L201.2,342.1 L201.7,342.1 L202.2,342.2 L202.7,342.3 L203.2,342.4 L203.7,342.4 L204.2,342.5 L204.7,342.5 L205.2,342.5 L205.7,342.5 L206.2,342.4 L206.7,342.4 L207.2,342.3 L207.7,342.2 L208.2,342.1 L208.7,342.0 L209.2,342.0 L209.7,341.9 L210.2,341.8 L210.7,341.7 L211.2,341.6 L211.7,341.5 L212.2,341.5 L212.7,341.6 L213.2,341.7 L213.7,341.8 L214.2,341.9 L214.7,342.0 L215.2,342.2 L215.7,342.3 L216.2,342.4 L216.7,342.5 L217.2,342.5 L217.7,342.4 L218.2,342.1 L218.7,341.9 L219.2,341.7 L219.7,341.5 L220.2,341.5 L220.7,341.6 L221.2,341.9 L221.7,342.1 L222.2,342.3 L222.7,342.5 L223.2,342.5 L223.7,342.4 L224.2,342.1 L224.7,341.9 L225.2,341.7 L225.7,341.5 L226.2,341.5 L226.7,341.6 L227.2,341.9 L227.7,342.1 L228.2,342.3 L228.7,342.5 L229.2,342.5 L229.7,342.4 L230.2,342.3 L230.7,342.1 L231.2,341.9 L231.7,341.8 L232.2,341.8 L232.7,341.9 L233.2,341.9 L233.7,342.0 L234.2,342.1 L234.7,342.2 L235.2,342.2 L235.7,342.0 L236.2,341.7 L236.7,341.5 L237.2,341.5 L237.7,341.6 L238.2,341.7 L238.7,341.8 L239.2,341.9 L239.7,342.0 L240.2,342.0 L240.7,342.0 L241.2,342.0 L241.7,342.1 L242.2,342.1 L242.7,342.1 L243.2,342.1 L243.7,342.1 L244.2,342.1 L244.7,342.1 L245.2,342.2 L245.7,342.2 L246.2,342.2 L246.7,342.2 L247.2,342.2 L247.7,342.2 L248.2,342.2 L248.7,342.2 L249.2,342.2 L249.7,342.2 L250.2,342.2 L250.7,342.2 L251.2,342.2 L251.7,342.2 L252.2,342.2 L252.7,342.2 L253.2,342.2 L253.7,342.2 L254.2,342.2 L254.7,342.2 L255.2,342.2 L255.7,342.2 L256.2,342.2 L256.7,342.2 L257.2,342.2 L257.7,342.2 L258.2,342.2 L258.7,342.2 L259.2,342.2 L259.7,342.2 L260.2,342.2 L260.7,342.1 L261.2,342.0 L261.7,341.8 L262.2,341.6 L262.7,341.4 L263.2,341.3 L263.7,341.2 L264.2,341.3 L264.7,341.7 L265.2,342.4 L265.7,342.9 L266.2,343.0 L266.7,342.7 L267.2,342.4 L267.7,342.1 L268.2,342.0 L268.7,342.2 L269.2,342.5 L269.7,342.8 L270.2,342.8 L270.7,342.7 L271.2,342.6 L271.7,342.4 L272.2,342.2 L272.7,341.9 L273.2,341.7 L273.7,341.6 L274.2,341.5 L274.7,341.4 L275.2,341.3 L275.7,341.3 L276.2,341.2 L276.7,341.2 L277.2,341.1 L277.7,341.1 L278.2,341.0 L278.7,340.8 L279.2,340.7 L279.7,340.5 L280.2,340.3 L280.7,340.1 L281.2,339.9 L281.7,339.8 L282.2,339.6 L282.7,339.4 L283.2,339.3 L283.7,339.1 L284.2,338.9 L284.7,338.8 L285.2,338.6 L285.7,338.5 L286.2,338.3 L286.7,338.1 L287.2,337.9 L287.7,337.6 L288.2,337.3 L288.7,337.0 L289.2,336.7 L289.7,336.5 L290.2,336.5 L290.7,336.6 L291.2,336.7 L291.7,336.9 L292.2,337.2 L292.7,337.4 L293.2,337.6 L293.7,337.9 L294.2,338.2 L294.7,338.5 L295.2,338.8 L295.7,339.0 L296.2,339.0 L296.7,339.0 L297.2,338.9 L297.7,338.8 L298.2,338.7 L298.7,338.6 L299.2,338.6 L299.7,338.5 L300.2,338.5 L300.7,338.5 L301.2,338.5 L301.7,338.5 L302.2,338.5 L302.7,338.5 L303.2,338.5 L303.7,338.5 L304.2,338.5 L304.7,338.5 L305.2,338.5 L305.7,338.5 L306.2,338.5 L306.7,338.5 L307.2,338.5 L307.7,338.5 L308.2,338.5 L308.7,338.4 L309.2,338.3 L309.7,338.1 L310.2,337.9 L310.7,337.6 L311.2,337.4 L311.7,337.0 L312.2,336.5 L312.7,335.9 L313.2,335.4 L313.7,335.0 L314.2,334.7 L314.7,334.5 L315.2,334.2 L315.7,334.0 L316.2,333.8 L316.7,333.8 L317.2,333.8 L317.7,334.2 L318.2,334.7 L318.7,335.2 L319.2,335.6 L319.7,335.5 L320.2,335.0 L320.7,334.2 L321.2,333.2 L321.7,332.0 L322.2,330.7 L322.7,329.4 L323.2,327.5 L323.7,325.1 L324.2,322.9 L324.7,321.5 L325.2,321.4 L325.7,322.7 L326.2,324.8 L326.7,326.9 L327.2,328.5 L327.7,328.7 L328.2,328.3 L328.7,327.6 L329.2,326.6 L329.7,325.6 L330.2,324.5 L330.7,322.9 L331.2,321.0 L331.7,318.9 L332.2,317.1 L332.7,315.9 L333.2,315.6 L333.7,316.4 L334.2,317.9 L334.7,319.9 L335.2,322.0 L335.7,323.8 L336.2,324.9 L336.7,325.5 L337.2,326.0 L337.7,326.5 L338.2,326.8 L338.7,326.9 L339.2,326.6 L339.7,325.5 L340.2,324.0 L340.7,322.2 L341.2,320.5 L341.7,319.1 L342.2,318.3 L342.7,318.2 L343.2,318.8 L343.7,319.9 L344.2,321.3 L344.7,322.7 L345.2,323.8 L345.7,324.5 L346.2,325.0 L346.7,325.5 L347.2,325.9 L347.7,326.3 L348.2,326.6 L348.7,326.8 L349.2,326.9 L349.7,326.8 L350.2,326.5 L350.7,325.8 L351.2,325.0 L351.7,324.2 L352.2,323.4 L352.7,322.6 L353.2,322.1 L353.7,321.9 L354.2,322.0 L354.7,322.3 L355.2,322.7 L355.7,323.2 L356.2,323.7 L356.7,324.2 L357.2,324.7 L357.7,325.2 L358.2,325.7 L358.7,326.3 L359.2,326.8 L359.7,327.2 L360.2,327.4 L360.7,327.5 L361.2,327.3 L361.7,326.8 L362.2,326.3 L362.7,325.6 L363.2,325.0 L363.7,324.4 L364.2,324.0 L364.7,323.5 L365.2,323.0 L365.7,322.7 L366.2,322.5 L366.7,322.8 L367.2,323.6 L367.7,324.7 L368.2,325.9 L368.7,326.8 L369.2,327.6 L369.7,328.4 L370.2,329.2 L370.7,329.8 L371.2,330.0 L371.7,329.6 L372.2,328.3 L372.7,326.5 L373.2,324.6 L373.7,321.8 L374.2,318.4 L374.7,315.2 L375.2,312.9 L375.7,310.9 L376.2,310.0 L376.7,311.5 L377.2,314.5 L377.7,317.4 L378.2,320.7 L378.7,324.2 L379.2,326.7 L379.7,327.5 L380.2,326.5 L380.7,324.6 L381.2,322.7 L381.7,320.7 L382.2,318.2 L382.7,315.7 L383.2,313.7 L383.7,312.5 L384.2,312.2 L384.7,311.9 L385.2,312.0 L385.7,313.0 L386.2,314.7 L386.7,316.8 L387.2,318.9 L387.7,320.7 L388.2,322.7 L388.7,324.9 L389.2,326.7 L389.7,327.9 L390.2,328.0 L390.7,327.2 L391.2,325.7 L391.7,323.9 L392.2,322.2 L392.7,320.7 L393.2,318.9 L393.7,317.1 L394.2,315.6 L394.7,314.6 L395.2,314.5 L395.7,315.4 L396.2,316.9 L396.7,318.7 L397.2,320.4 L397.7,321.7 L398.2,323.0 L398.7,324.4 L399.2,325.4 L399.7,326.1 L400.2,326.2 L400.7,325.7 L401.2,324.8 L401.7,323.7 L402.2,322.9 L402.7,322.3 L403.2,321.9 L403.7,321.5 L404.2,321.1 L404.7,320.8 L405.2,320.6 L405.7,320.6 L406.2,321.0 L406.7,321.7 L407.2,322.5 L407.7,323.4 L408.2,324.1 L408.7,324.4 L409.2,324.4 L409.7,324.3 L410.2,324.2 L410.7,324.1 L411.2,323.9 L411.7,323.8 L412.2,323.8 L412.7,323.8 L413.2,323.8 L413.7,323.8 L414.2,323.9 L414.7,324.0 L415.2,324.1 L415.7,324.2 L416.2,324.4 L416.7,324.7 L417.2,325.3 L417.7,326.0 L418.2,326.6 L418.7,326.9 L419.2,326.9 L419.7,326.7 L420.2,326.5 L420.7,326.3 L421.2,326.0 L421.7,325.6 L422.2,325.2 L422.7,324.8 L423.2,324.0 L423.7,323.0 L424.2,322.0 L424.7,321.4 L425.2,321.3 L425.7,321.4 L426.2,321.8 L426.7,322.2 L427.2,322.8 L427.7,323.4 L428.2,324.7 L428.7,326.4 L429.2,328.1 L429.7,329.2 L430.2,329.3 L430.7,328.7 L431.2,327.5 L431.7,326.0 L432.2,324.5 L432.7,323.2 L433.2,321.7 L433.7,320.0 L434.2,318.6 L434.7,317.7 L435.2,317.6 L435.7,318.5 L436.2,320.1 L436.7,322.0 L437.2,324.0 L437.7,325.7 L438.2,327.7 L438.7,329.8 L439.2,331.7 L439.7,332.9 L440.2,332.9 L440.7,330.7 L441.2,327.5 L441.7,324.9 L442.2,323.9 L442.7,323.2 L443.2,322.6 L443.7,322.1 L444.2,321.9 L444.7,322.2 L445.2,323.5 L445.7,325.5 L446.2,327.3 L446.7,329.1 L447.2,331.1 L447.7,332.6 L448.2,333.1 L448.7,332.8 L449.2,332.3 L449.7,331.6 L450.2,331.0 L450.7,330.0 L451.2,328.8 L451.7,327.7 L452.2,327.0 L452.7,326.9 L453.2,327.0 L453.7,327.2 L454.2,327.5 L454.7,327.9 L455.2,328.3 L455.7,329.5 L456.2,330.9 L456.7,331.8 L457.2,331.9 L457.7,331.6 L458.2,331.2 L458.7,330.7 L459.2,330.3 L459.7,330.0 L460.2,330.0 L460.7,330.3 L461.2,330.9 L461.7,331.5 L462.2,332.2 L462.7,332.7 L463.2,333.2 L463.7,333.8 L464.2,334.3 L464.7,334.8 L465.2,335.1 L465.7,335.5 L466.2,335.8 L466.7,336.1 L467.2,336.2 L467.7,336.2 L468.2,336.1 L468.7,335.9 L469.2,335.5 L469.7,335.2 L470.2,334.9 L470.7,334.4 L471.2,333.9 L471.7,333.3 L472.2,332.8 L472.7,332.3 L473.2,331.9 L473.7,331.4 L474.2,331.0 L474.7,330.7 L475.2,330.5 L475.7,330.4 L476.2,330.2 L476.7,330.1 L477.2,330.0 L477.7,330.0 L478.2,330.2 L478.7,330.6 L479.2,330.9 L479.7,331.2 L480.2,331.2 L480.7,330.6 L481.2,329.6 L481.7,328.6 L482.2,327.7 L482.7,327.4 L483.2,327.2 L483.7,327.1 L484.2,327.0 L484.7,326.9 L485.2,326.9 L485.7,327.2 L486.2,327.7 L486.7,328.4 L487.2,329.0 L487.7,329.6 L488.2,330.4 L488.7,331.2 L489.2,331.9 L489.7,332.4 L490.2,332.5 L490.7,332.0 L491.2,331.3 L491.7,330.6 L492.2,330.1 L492.7,330.0 L493.2,330.2 L493.7,330.6 L494.2,331.1 L494.7,331.6 L495.2,332.1 L495.7,332.7 L496.2,333.4 L496.7,334.2 L497.2,334.7 L497.7,335.1 L498.2,335.4 L498.7,335.7 L499.2,335.9 L499.7,336.1 L500.2,336.3 L500.7,336.5 L501.2,336.7 L501.7,336.8 L502.2,336.9 L502.7,336.9 L503.2,336.4 L503.7,335.7 L504.2,335.0 L504.7,334.5 L505.2,334.4 L505.7,334.8 L506.2,335.4 L506.7,336.1 L507.2,336.7 L507.7,337.0 L508.2,337.2 L508.7,337.5 L509.2,337.7 L509.7,337.8 L510.2,338.0 L510.7,338.1 L511.2,338.1 L511.7,338.1 L512.2,337.9 L512.7,337.7 L513.2,337.5 L513.7,337.2 L514.2,337.0 L514.7,336.9 L515.2,336.9 L515.7,336.9 L516.2,336.9 L516.7,336.9 L517.2,336.9 L517.7,336.9 L518.2,336.9 L518.7,336.9 L519.2,336.9 L519.7,337.1 L520.2,337.3 L520.7,337.5 L521.2,337.8 L521.7,338.0 L522.2,338.1 L522.7,338.1 L523.2,338.0 L523.7,337.7 L524.2,337.4 L524.7,337.1 L525.2,336.7 L525.7,336.5 L526.2,336.3 L526.7,336.1 L527.2,336.0 L527.7,335.9 L528.2,335.8 L528.7,335.7 L529.2,335.6 L529.7,335.6 L530.2,335.6 L530.7,335.7 L531.2,335.8 L531.7,335.9 L532.2,336.0 L532.7,336.1 L533.2,336.2 L533.7,336.2 L534.2,336.1 L534.7,335.7 L535.2,335.2 L535.7,334.6 L536.2,334.0 L536.7,333.5 L537.2,333.2 L537.7,333.1 L538.2,333.6 L538.7,334.5 L539.2,335.5 L539.7,336.7 L540.2,337.7 L540.7,338.4 L541.2,338.7 L541.7,338.7 L542.2,338.5 L542.7,338.1 L543.2,337.8 L543.7,337.4 L544.2,337.1 L544.7,336.9 L545.2,336.9 L545.7,336.9 L546.2,337.0 L546.7,337.1 L547.2,337.2 L547.7,337.3 L548.2,337.4 L548.7,337.5 L549.2,337.6 L549.7,337.7 L550.2,337.9 L550.7,338.0 L551.2,338.2 L551.7,338.4 L552.2,338.6 L552.7,338.8 L553.2,339.2 L553.7,339.5 L554.2,339.9 L554.7,340.3 L555.2,340.7 L555.7,341.0 L556.2,341.2 L556.7,341.4 L557.2,341.5 L557.7,341.6 L558.2,341.7 L558.7,341.8 L559.2,341.9 L559.7,341.9 L560.2,341.9 L560.7,341.8 L561.2,341.6 L561.7,341.3 L562.2,341.1 L562.7,340.8 L563.2,340.7 L563.7,340.6 L564.2,340.6 L564.7,340.7 L565.2,340.7 L565.7,340.8 L566.2,340.9 L566.7,341.1 L567.2,341.2 L567.7,341.3 L568.2,341.5 L568.7,341.7 L569.2,341.9 L569.7,342.1 L570.2,342.3 L570.7,342.4 L571.2,342.5 L571.7,342.5 L572.2,342.5 L572.7,342.5 L573.2,342.5 L573.5,342.5"/>
<path stroke="#C371D2" d="M70.2,346.5 L70.7,346.5 L71.2,346.5 L71.7,346.5 L72.2,346.5 L72.7,346.5 L73.2,346.5 L73.7,346.5 L74.2,346.5 L74.7,346.5 L75.2,346.5 L75.7,346.5 L76.2,346.5 L76.7,346.5 L77.2,346.5 L77.7,346.5 L78.2,346.5 L78.7,346.5 L79.2,346.5 L79.7,346.5 L80.2,346.5 L80.7,346.5 L81.2,346.5 L81.7,346.5 L82.2,346.5 L82.7,346.5 L83.2,346.5 L83.7,346.5 L84.2,346.5 L84.7,346.5 L85.2,346.5 L85.7,346.5 L86.2,346.5 L86.7,346.5 L87.2,346.5 L87.7,346.5 L88.2,346.5 L88.7,346.5 L89.2,346.5 L89.7,346.5 L90.2,346.5 L90.7,346.5 L91.2,346.5 L91.7,346.5 L92.2,346.5 L92.7,346.5 L93.2,346.5 L93.7,346.5 L94.2,346.5 L94.7,346.5 L95.2,346.5 L95.7,346.5 L96.2,346.5 L96.7,346.5 L97.2,346.5 L97.7,346.5 L98.2,346.5 L98.7,346.5 L99.2,346.5 L99.7,346.5 L100.2,346.5 L100.7,346.5 L101.2,346.5 L101.7,346.5 L102.2,346.5 L102.7,346.5 L103.2,346.5 L103.7,346.5 L104.2,346.5 L104.7,346.5 L105.2,346.5 L105.7,346.5 L106.2,346.5 L106.7,346.5 L107.2,346.5 L107.7,346.5 L108.2,346.5 L108.7,346.5 L109.2,346.5 L109.7,346.5 L110.2,346.5 L110.7,346.5 L111.2,346.5 L111.7,346.5 L112.2,346.5 L112.7,346.5 L113.2,346.5 L113.7,346.5 L114.2,346.5 L114.7,346.5 L115.2,346.5 L115.7,346.5 L116.2,346.5 L116.7,346.5 L117.2,346.5 L117.7,346.5 L118.2,346.5 L118.7,346.5 L119.2,346.5 L119.7,346.5 L120.2,346.5 L120.7,346.5 L121.2,346.5 L121.7,346.5 L122.2,346.5 L122.7,346.5 L123.2,346.5 L123.7,346.5 L124.2,346.5 L124.7,346.5 L125.2,346.5 L125.7,346.5 L126.2,346.5 L126.7,346.5 L127.2,346.5 L127.7,346.5 L128.2,346.5 L128.7,346.5 L129.2,346.5 L129.7,346.5 L130.2,346.5 L130.7,346.5 L131.2,346.5 L131.7,346.5 L132.2,346.5 L132.7,346.5 L133.2,346.5 L133.7,346.5 L134.2,346.5 L134.7,346.5 L135.2,346.5 L135.7,346.5 L136.2,346.5 L136.7,346.5 L137.2,346.5 L137.7,346.5 L138.2,346.5 L138.7,346.5 L139.2,346.5 L139.7,346.5 L140.2,346.5 L140.7,346.5 L141.2,346.5 L141.7,346.5 L142.2,346.5 L142.7,346.5 L143.2,346.5 L143.7,346.5 L144.2,346.5 L144.7,346.5 L145.2,346.5 L145.7,346.5 L146.2,346.5 L146.7,346.5 L147.2,346.5 L147.7,346.5 L148.2,346.5 L148.7,346.5 L149.2,346.5 L149.7,346.4 L150.2,346.4 L150.7,346.4 L151.2,346.3 L151.7,346.3 L152.2,346.2 L152.7,346.2 L153.2,346.1 L153.7,346.0 L154.2,346.0 L154.7,346.0 L155.2,346.0 L155.7,346.0 L156.2,345.9 L156.7,345.7 L157.2,345.5 L157.7,345.4 L158.2,345.4 L158.7,345.5 L159.2,345.6 L159.7,345.7 L160.2,345.6 L160.7,345.4 L161.2,345.1 L161.7,344.9 L162.2,344.9 L162.7,345.0 L163.2,345.2 L163.7,345.4 L164.2,345.4 L164.7,345.3 L165.2,345.1 L165.7,344.9 L166.2,344.7 L166.7,344.8 L167.2,344.9 L167.7,345.1 L168.2,345.3 L168.7,345.2 L169.2,345.1 L169.7,344.9 L170.2,344.7 L170.7,344.6 L171.2,344.7 L171.7,344.9 L172.2,345.1 L172.7,345.2 L173.2,345.1 L173.7,344.9 L174.2,344.7 L174.7,344.6 L175.2,344.6 L175.7,344.7 L176.2,344.9 L176.7,345.1 L177.2,345.1 L177.7,345.0 L178.2,344.8 L178.7,344.6 L179.2,344.5 L179.7,344.6 L180.2,344.7 L180.7,344.9 L181.2,345.1 L181.7,345.0 L182.2,344.8 L182.7,344.6 L183.2,344.5 L183.7,344.4 L184.2,344.6 L184.7,344.8 L185.2,344.9 L185.7,345.0 L186.2,344.9 L186.7,344.7 L187.2,344.5 L187.7,344.4 L188.2,344.4 L188.7,344.6 L189.2,344.8 L189.7,344.9 L190.2,344.9 L190.7,344.7 L191.2,344.5 L191.7,344.3 L192.2,344.3 L192.7,344.4 L193.2,344.6 L193.7,344.7 L194.2,344.8 L194.7,344.7 L195.2,344.5 L195.7,344.3 L196.2,344.2 L196.7,344.2 L197.2,344.3 L197.7,344.5 L198.2,344.7 L198.7,344.7 L199.2,344.6 L199.7,344.4 L200.2,344.2 L200.7,344.1 L201.2,344.2 L201.7,344.3 L202.2,344.5 L202.7,344.6 L203.2,344.6 L203.7,344.4 L204.2,344.2 L204.7,344.0 L205.2,344.0 L205.7,344.2 L206.2,344.4 L206.7,344.5 L207.2,344.6 L207.7,344.5 L208.2,344.3 L208.7,344.1 L209.2,343.9 L209.7,344.0 L210.2,344.2 L210.7,344.4 L211.2,344.5 L211.7,344.5 L212.2,344.3 L212.7,344.1 L213.2,344.0 L213.7,344.0 L214.2,344.1 L214.7,344.2 L215.2,344.3 L215.7,344.2 L216.2,344.2 L216.7,344.2 L217.2,344.2 L217.7,344.2 L218.2,344.2 L218.7,344.2 L219.2,344.2 L219.7,344.2 L220.2,344.3 L220.7,344.3 L221.2,344.3 L221.7,344.3 L222.2,344.3 L222.7,344.3 L223.2,344.3 L223.7,344.3 L224.2,344.3 L224.7,344.3 L225.2,344.3 L225.7,344.3 L226.2,344.3 L226.7,344.2 L227.2,344.2 L227.7,344.1 L228.2,344.1 L228.7,344.1 L229.2,344.0 L229.7,344.0 L230.2,344.0 L230.7,344.0 L231.2,344.0 L231.7,344.0 L232.2,344.1 L232.7,344.1 L233.2,344.1 L233.7,344.2 L234.2,344.2 L234.7,344.2 L235.2,344.3 L235.7,344.3 L236.2,344.3 L236.7,344.4 L237.2,344.4 L237.7,344.4 L238.2,344.5 L238.7,344.5 L239.2,344.5 L239.7,344.5 L240.2,344.5 L240.7,344.5 L241.2,344.5 L241.7,344.5 L242.2,344.5 L242.7,344.5 L243.2,344.5 L243.7,344.5 L244.2,344.5 L244.7,344.5 L245.2,344.5 L245.7,344.5 L246.2,344.5 L246.7,344.5 L247.2,344.5 L247.7,344.5 L248.2,344.5 L248.7,344.5 L249.2,344.5 L249.7,344.5 L250.2,344.5 L250.7,344.5 L251.2,344.5 L251.7,344.5 L252.2,344.5 L252.7,344.5 L253.2,344.5 L253.7,344.5 L254.2,344.5 L254.7,344.5 L255.2,344.5 L255.7,344.5 L256.2,344.4 L256.7,344.4 L257.2,344.3 L257.7,344.2 L258.2,344.1 L258.7,344.1 L259.2,344.0 L259.7,344.0 L260.2,344.0 L260.7,344.1 L261.2,344.1 L261.7,344.3 L262.2,344.4 L262.7,344.6 L263.2,344.7 L263.7,344.8 L264.2,344.9 L264.7,345.0 L265.2,345.0 L265.7,345.0 L266.2,344.9 L266.7,344.8 L267.2,344.7 L267.7,344.6 L268.2,344.6 L268.7,344.5 L269.2,344.5 L269.7,344.6 L270.2,344.7 L270.7,344.8 L271.2,345.0 L271.7,345.1 L272.2,345.3 L272.7,345.5 L273.2,345.7 L273.7,345.8 L274.2,345.9 L274.7,346.0 L275.2,346.0 L275.7,346.0 L276.2,346.0 L276.7,346.0 L277.2,346.0 L277.7,346.0 L278.2,345.9 L278.7,345.9 L279.2,345.9 L279.7,345.9 L280.2,345.8 L280.7,345.8 L281.2,345.8 L281.7,345.7 L282.2,345.7 L282.7,345.7 L283.2,345.6 L283.7,345.6 L284.2,345.6 L284.7,345.5 L285.2,345.5 L285.7,345.4 L286.2,345.4 L286.7,345.3 L287.2,345.2 L287.7,345.1 L288.2,345.0 L288.7,344.9 L289.2,344.9 L289.7,344.8 L290.2,344.7 L290.7,344.6 L291.2,344.6 L291.7,344.5 L292.2,344.5 L292.7,344.5 L293.2,344.4 L293.7,344.4 L294.2,344.4 L294.7,344.4 L295.2,344.4 L295.7,344.3 L296.2,344.3 L296.7,344.3 L297.2,344.3 L297.7,344.3 L298.2,344.3 L298.7,344.3 L299.2,344.2 L299.7,344.2 L300.2,344.2 L300.7,344.2 L301.2,344.1 L301.7,344.1 L302.2,344.1 L302.7,344.1 L303.2,344.1 L303.7,344.0 L304.2,344.0 L304.7,344.0 L305.2,343.9 L305.7,343.9 L306.2,343.9 L306.7,343.8 L307.2,343.8 L307.7,343.7 L308.2,343.7 L308.7,343.6 L309.2,343.5 L309.7,343.4 L310.2,343.3 L310.7,343.2 L311.2,343.1 L311.7,343.0 L312.2,342.9 L312.7,342.8 L313.2,342.8 L313.7,342.7 L314.2,342.7 L314.7,342.7 L315.2,342.6 L315.7,342.6 L316.2,342.5 L316.7,342.4 L317.2,342.1 L317.7,341.7 L318.2,341.3 L318.7,340.7 L319.2,339.8 L319.7,338.9 L320.2,338.8 L320.7,339.1 L321.2,339.7 L321.7,340.4 L322.2,341.0 L322.7,341.4 L323.2,341.8 L323.7,342.3 L324.2,342.7 L324.7,343.1 L325.2,343.5 L325.7,343.8 L326.2,344.1 L326.7,344.3 L327.2,344.4 L327.7,344.4 L328.2,344.3 L328.7,344.1 L329.2,343.8 L329.7,343.4 L330.2,343.0 L330.7,342.6 L331.2,342.2 L331.7,341.8 L332.2,341.4 L332.7,341.1 L333.2,340.9 L333.7,340.7 L334.2,340.5 L334.7,340.2 L335.2,339.7 L335.7,338.4 L336.2,336.8 L336.7,335.7 L337.2,335.7 L337.7,336.1 L338.2,336.6 L338.7,337.1 L339.2,337.5 L339.7,337.4 L340.2,336.8 L340.7,336.0 L341.2,335.1 L341.7,334.5 L342.2,334.3 L342.7,334.1 L343.2,333.9 L343.7,333.8 L344.2,333.8 L344.7,333.8 L345.2,334.1 L345.7,334.5 L346.2,334.9 L346.7,335.3 L347.2,335.6 L347.7,335.6 L348.2,335.1 L348.7,334.4 L349.2,333.4 L349.7,332.5 L350.2,331.6 L350.7,330.9 L351.2,330.6 L351.7,330.7 L352.2,331.1 L352.7,331.7 L353.2,332.3 L353.7,332.8 L354.2,333.1 L354.7,333.1 L355.2,333.0 L355.7,332.9 L356.2,332.7 L356.7,332.5 L357.2,332.3 L357.7,332.1 L358.2,331.9 L358.7,331.6 L359.2,331.4 L359.7,331.1 L360.2,330.9 L360.7,330.7 L361.2,330.6 L361.7,330.8 L362.2,331.3 L362.7,332.0 L363.2,332.7 L363.7,333.4 L364.2,333.7 L364.7,333.7 L365.2,333.5 L365.7,333.2 L366.2,332.8 L366.7,332.5 L367.2,332.3 L367.7,332.3 L368.2,332.5 L368.7,332.9 L369.2,333.4 L369.7,334.0 L370.2,334.7 L370.7,336.2 L371.2,338.0 L371.7,339.8 L372.2,341.0 L372.7,341.2 L373.2,340.7 L373.7,339.8 L374.2,338.8 L374.7,337.9 L375.2,337.3 L375.7,336.8 L376.2,336.3 L376.7,336.0 L377.2,337.0 L377.7,340.8 L378.2,342.5 L378.7,342.4 L379.2,342.1 L379.7,341.6 L380.2,341.1 L380.7,340.6 L381.2,340.1 L381.7,339.4 L382.2,338.6 L382.7,337.8 L383.2,336.9 L383.7,336.3 L384.2,335.9 L384.7,335.5 L385.2,335.2 L385.7,334.8 L386.2,334.4 L386.7,333.8 L387.2,333.0 L387.7,332.2 L388.2,331.6 L388.7,331.3 L389.2,331.6 L389.7,332.5 L390.2,333.6 L390.7,334.5 L391.2,335.0 L391.7,334.7 L392.2,334.0 L392.7,332.8 L393.2,331.5 L393.7,330.1 L394.2,328.3 L394.7,325.9 L395.2,323.9 L395.7,323.1 L396.2,322.8 L396.7,322.7 L397.2,322.6 L397.7,322.5 L398.2,322.5 L398.7,323.0 L399.2,324.0 L399.7,325.1 L400.2,326.0 L400.7,326.2 L401.2,325.8 L401.7,325.0 L402.2,324.0 L402.7,323.3 L403.2,323.1 L403.7,323.2 L404.2,323.4 L404.7,323.7 L405.2,324.1 L405.7,324.5 L406.2,325.2 L406.7,326.2 L407.2,327.2 L407.7,327.9 L408.2,328.1 L408.7,327.7 L409.2,326.8 L409.7,325.9 L410.2,325.2 L410.7,325.0 L411.2,325.2 L411.7,325.5 L412.2,326.0 L412.7,326.5 L413.2,327.0 L413.7,327.7 L414.2,328.5 L414.7,329.3 L415.2,329.8 L415.7,330.0 L416.2,329.7 L416.7,329.2 L417.2,328.7 L417.7,328.2 L418.2,328.1 L418.7,328.3 L419.2,328.8 L419.7,329.5 L420.2,330.6 L420.7,333.8 L421.2,337.8 L421.7,340.8 L422.2,341.5 L422.7,341.7 L423.2,341.9 L423.7,342.0 L424.2,342.2 L424.7,342.4 L425.2,342.6 L425.7,343.0 L426.2,343.5 L426.7,344.1 L427.2,344.7 L427.7,345.1 L428.2,345.5 L428.7,345.6 L429.2,345.5 L429.7,345.3 L430.2,345.0 L430.7,344.6 L431.2,344.3 L431.7,344.0 L432.2,343.8 L432.7,343.8 L433.2,343.8 L433.7,343.9 L434.2,344.0 L434.7,344.2 L435.2,344.3 L435.7,344.4 L436.2,344.4 L436.7,344.4 L437.2,344.3 L437.7,344.2 L438.2,344.1 L438.7,343.9 L439.2,343.8 L439.7,343.8 L440.2,343.8 L440.7,343.8 L441.2,343.8 L441.7,343.9 L442.2,343.9 L442.7,344.0 L443.2,344.1 L443.7,344.2 L444.2,344.2 L444.7,344.3 L445.2,344.4 L445.7,344.6 L446.2,344.8 L446.7,344.9 L447.2,345.1 L447.7,345.3 L448.2,345.5 L448.7,345.6 L449.2,345.7 L449.7,345.7 L450.2,345.8 L450.7,345.9 L451.2,346.0 L451.7,346.0 L452.2,346.1 L452.7,346.1 L453.2,346.2 L453.7,346.2 L454.2,346.3 L454.7,346.3 L455.2,346.4 L455.7,346.4 L456.2,346.4 L456.7,346.5 L457.2,346.5 L457.7,346.5 L458.2,346.5 L458.7,346.5 L459.2,346.5 L459.7,346.5 L460.2,346.5 L460.7,346.5 L461.2,346.5 L461.7,346.4 L462.2,346.4 L462.7,346.4 L463.2,346.4 L463.7,346.4 L464.2,346.3 L464.7,346.3 L465.2,346.3 L465.7,346.2 L466.2,346.2 L466.7,346.2 L467.2,346.1 L467.7,346.1 L468.2,346.0 L468.7,346.0 L469.2,346.0 L469.7,345.9 L470.2,345.8 L470.7,345.7 L471.2,345.6 L471.7,345.5 L472.2,345.4 L472.7,345.2 L473.2,345.1 L473.7,344.9 L474.2,344.7 L474.7,344.5 L475.2,344.3 L475.7,344.0 L476.2,343.6 L476.7,343.1 L477.2,342.7 L477.7,342.4 L478.2,342.0 L478.7,341.7 L479.2,341.4 L479.7,341.3 L480.2,341.3 L480.7,342.0 L481.2,343.0 L481.7,343.7 L482.2,343.7 L482.7,343.3 L483.2,342.6 L483.7,342.0 L484.2,341.4 L484.7,341.0 L485.2,340.7 L485.7,340.4 L486.2,340.1 L486.7,340.0 L487.2,340.1 L487.7,340.6 L488.2,341.3 L488.7,342.0 L489.2,342.5 L489.7,342.5 L490.2,342.2 L490.7,341.8 L491.2,341.5 L491.7,341.3 L492.2,341.4 L492.7,342.0 L493.2,342.9 L493.7,343.8 L494.2,344.3 L494.7,344.4 L495.2,344.3 L495.7,344.2 L496.2,344.1 L496.7,343.9 L497.2,343.8 L497.7,343.7 L498.2,343.6 L498.7,343.5 L499.2,343.4 L499.7,343.3 L500.2,343.2 L500.7,343.1 L501.2,343.1 L501.7,343.1 L502.2,343.3 L502.7,343.5 L503.2,343.7 L503.7,343.9 L504.2,344.1 L504.7,344.2 L505.2,344.2 L505.7,344.0 L506.2,343.6 L506.7,343.2 L507.2,342.8 L507.7,342.3 L508.2,341.7 L508.7,341.1 L509.2,340.5 L509.7,340.1 L510.2,340.0 L510.7,340.2 L511.2,340.6 L511.7,340.9 L512.2,341.2 L512.7,341.2 L513.2,340.5 L513.7,339.5 L514.2,338.4 L514.7,337.6 L515.2,337.5 L515.7,337.7 L516.2,338.1 L516.7,338.4 L517.2,338.7 L517.7,338.7 L518.2,338.6 L518.7,338.4 L519.2,338.0 L519.7,337.6 L520.2,337.2 L520.7,336.8 L521.2,336.2 L521.7,335.5 L522.2,334.6 L522.7,333.9 L523.2,333.3 L523.7,333.1 L524.2,333.3 L524.7,334.0 L525.2,334.8 L525.7,335.6 L526.2,336.2 L526.7,336.5 L527.2,336.8 L527.7,337.0 L528.2,337.2 L528.7,337.5 L529.2,337.7 L529.7,337.9 L530.2,338.1 L530.7,338.4 L531.2,338.7 L531.7,339.5 L532.2,340.9 L532.7,342.5 L533.2,343.8 L533.7,344.4 L534.2,344.3 L534.7,344.2 L535.2,344.0 L535.7,343.7 L536.2,343.5 L536.7,343.3 L537.2,343.1 L537.7,343.1 L538.2,343.2 L538.7,343.4 L539.2,343.7 L539.7,343.9 L540.2,344.2 L540.7,344.3 L541.2,344.4 L541.7,344.4 L542.2,344.3 L542.7,344.1 L543.2,343.9 L543.7,343.7 L544.2,343.5 L544.7,343.2 L545.2,343.0 L545.7,342.7 L546.2,342.3 L546.7,341.8 L547.2,341.3 L547.7,340.9 L548.2,340.4 L548.7,340.0 L549.2,339.7 L549.7,339.3 L550.2,339.0 L550.7,338.7 L551.2,338.4 L551.7,338.2 L552.2,338.0 L552.7,337.9 L553.2,337.8 L553.7,337.7 L554.2,337.6 L554.7,337.6 L555.2,337.5 L555.7,337.4 L556.2,337.3 L556.7,337.2 L557.2,337.0 L557.7,336.7 L558.2,335.5 L558.7,333.8 L559.2,332.0 L559.7,330.8 L560.2,330.7 L560.7,331.3 L561.2,332.3 L561.7,333.3 L562.2,334.2 L562.7,334.5 L563.2,334.7 L563.7,334.8 L564.2,334.9 L564.7,335.0 L565.2,334.9 L565.7,334.2 L566.2,332.9 L566.7,331.7 L567.2,330.8 L567.7,330.6 L568.2,331.1 L568.7,332.0 L569.2,333.0 L569.7,333.9 L570.2,334.7 L570.7,335.4 L571.2,336.1 L571.7,336.7 L572.2,337.3 L572.7,337.6 L573.2,337.9 L573.5,338.0"/>
<path stroke="#AC8E18" d="M70.2,346.5 L70.7,346.5 L71.2,346.5 L71.7,346.5 L72.2,346.5 L72.7,346.5 L73.2,346.5 L73.7,346.5 L74.2,346.5 L74.7,346.5 L75.2,346.5 L75.7,346.5 L76.2,346.5 L76.7,346.5 L77.2,346.5 L77.7,346.5 L78.2,346.5 L78.7,346.5 L79.2,346.5 L79.7,346.5 L80.2,346.5 L80.7,346.5 L81.2,346.5 L81.7,346.5 L82.2,346.5 L82.7,346.5 L83.2,346.5 L83.7,346.5 L84.2,346.5 L84.7,346.5 L85.2,346.5 L85.7,346.5 L86.2,346.5 L86.7,346.5 L87.2,346.5 L87.7,346.5 L88.2,346.5 L88.7,346.5 L89.2,346.5 L89.7,346.5 L90.2,346.5 L90.7,346.5 L91.2,346.5 L91.7,346.5 L92.2,346.5 L92.7,346.5 L93.2,346.5 L93.7,346.5 L94.2,346.5 L94.7,346.5 L95.2,346.5 L95.7,346.5 L96.2,346.5 L96.7,346.5 L97.2,346.5 L97.7,346.5 L98.2,346.5 L98.7,346.5 L99.2,346.5 L99.7,346.5 L100.2,346.5 L100.7,346.5 L101.2,346.5 L101.7,346.5 L102.2,346.5 L102.7,346.5 L103.2,346.5 L103.7,346.5 L104.2,346.5 L104.7,346.5 L105.2,346.5 L105.7,346.5 L106.2,346.5 L106.7,346.5 L107.2,346.5 L107.7,346.5 L108.2,346.5 L108.7,346.5 L109.2,346.5 L109.7,346.5 L110.2,346.5 L110.7,346.5 L111.2,346.5 L111.7,346.5 L112.2,346.5 L112.7,346.5 L113.2,346.5 L113.7,346.5 L114.2,346.5 L114.7,346.5 L115.2,346.5 L115.7,346.5 L116.2,346.5 L116.7,346.5 L117.2,346.5 L117.7,346.5 L118.2,346.5 L118.7,346.5 L119.2,346.5 L119.7,346.5 L120.2,346.5 L120.7,346.5 L121.2,346.5 L121.7,346.5 L122.2,346.5 L122.7,346.5 L123.2,346.5 L123.7,346.5 L124.2,346.5 L124.7,346.5 L125.2,346.5 L125.7,346.5 L126.2,346.5 L126.7,346.5 L127.2,346.5 L127.7,346.5 L128.2,346.5 L128.7,346.5 L129.2,346.5 L129.7,346.5 L130.2,346.5 L130.7,346.5 L131.2,346.5 L131.7,346.5 L132.2,346.5 L132.7,346.5 L133.2,346.5 L133.7,346.5 L134.2,346.5 L134.7,346.5 L135.2,346.5 L135.7,346.5 L136.2,346.5 L136.7,346.5 L137.2,346.5 L137.7,346.5 L138.2,346.5 L138.7,346.5 L139.2,346.5 L139.7,346.5 L140.2,346.5 L140.7,346.5 L141.2,346.5 L141.7,346.5 L142.2,346.5 L142.7,346.5 L143.2,346.5 L143.7,346.5 L144.2,346.5 L144.7,346.5 L145.2,346.5 L145.7,346.5 L146.2,346.5 L146.7,346.5 L147.2,346.5 L147.7,346.5 L148.2,346.5 L148.7,346.5 L149.2,346.5 L149.7,346.4 L150.2,346.4 L150.7,346.3 L151.2,346.3 L151.7,346.2 L152.2,346.2 L152.7,346.1 L153.2,346.0 L153.7,345.9 L154.2,345.9 L154.7,345.9 L155.2,345.9 L155.7,345.8 L156.2,345.6 L156.7,345.5 L157.2,345.4 L157.7,345.4 L158.2,345.6 L158.7,345.6 L159.2,345.6 L159.7,345.3 L160.2,345.0 L160.7,344.9 L161.2,345.0 L161.7,345.2 L162.2,345.3 L162.7,345.4 L163.2,345.2 L163.7,344.9 L164.2,344.7 L164.7,344.7 L165.2,344.9 L165.7,345.1 L166.2,345.2 L166.7,345.1 L167.2,344.9 L167.7,344.7 L168.2,344.6 L168.7,344.7 L169.2,344.9 L169.7,345.1 L170.2,345.1 L170.7,344.9 L171.2,344.7 L171.7,344.5 L172.2,344.6 L172.7,344.8 L173.2,345.0 L173.7,345.1 L174.2,344.9 L174.7,344.7 L175.2,344.5 L175.7,344.5 L176.2,344.6 L176.7,344.9 L177.2,345.0 L177.7,345.0 L178.2,344.7 L178.7,344.5 L179.2,344.4 L179.7,344.5 L180.2,344.7 L180.7,344.9 L181.2,345.0 L181.7,344.8 L182.2,344.5 L182.7,344.4 L183.2,344.4 L183.7,344.6 L184.2,344.8 L184.7,344.9 L185.2,344.8 L185.7,344.6 L186.2,344.4 L186.7,344.3 L187.2,344.4 L187.7,344.7 L188.2,344.8 L188.7,344.8 L189.2,344.6 L189.7,344.3 L190.2,344.2 L190.7,344.2 L191.2,344.5 L191.7,344.7 L192.2,344.7 L192.7,344.6 L193.2,344.3 L193.7,344.1 L194.2,344.1 L194.7,344.2 L195.2,344.5 L195.7,344.6 L196.2,344.5 L196.7,344.3 L197.2,344.1 L197.7,344.0 L198.2,344.0 L198.7,344.3 L199.2,344.5 L199.7,344.5 L200.2,344.3 L200.7,344.1 L201.2,343.9 L201.7,343.9 L202.2,344.1 L202.7,344.3 L203.2,344.4 L203.7,344.4 L204.2,344.1 L204.7,343.9 L205.2,343.8 L205.7,344.0 L206.2,344.2 L206.7,344.4 L207.2,344.4 L207.7,344.2 L208.2,343.9 L208.7,343.8 L209.2,343.8 L209.7,344.1 L210.2,344.3 L210.7,344.3 L211.2,344.2 L211.7,343.9 L212.2,343.7 L212.7,343.6 L213.2,343.7 L213.7,343.8 L214.2,343.7 L214.7,343.5 L215.2,343.3 L215.7,343.1 L216.2,343.1 L216.7,343.0 L217.2,343.1 L217.7,343.6 L218.2,344.3 L218.7,344.9 L219.2,344.9 L219.7,344.0 L220.2,342.7 L220.7,341.7 L221.2,341.6 L221.7,342.3 L222.2,343.4 L222.7,344.3 L223.2,344.4 L223.7,343.2 L224.2,341.6 L224.7,340.3 L225.2,340.1 L225.7,341.1 L226.2,342.6 L226.7,343.8 L227.2,343.9 L227.7,342.6 L228.2,340.8 L228.7,339.3 L229.2,339.1 L229.7,340.3 L230.2,341.9 L230.7,343.2 L231.2,343.4 L231.7,342.4 L232.2,340.9 L232.7,339.7 L233.2,339.6 L233.7,340.5 L234.2,341.8 L234.7,342.8 L235.2,343.0 L235.7,342.7 L236.2,342.4 L236.7,342.1 L237.2,342.0 L237.7,342.1 L238.2,342.4 L238.7,342.6 L239.2,342.8 L239.7,343.0 L240.2,343.0 L240.7,343.0 L241.2,343.0 L241.7,343.0 L242.2,343.0 L242.7,343.0 L243.2,343.0 L243.7,343.0 L244.2,343.0 L244.7,343.0 L245.2,343.0 L245.7,343.0 L246.2,343.0 L246.7,343.0 L247.2,343.0 L247.7,343.0 L248.2,343.0 L248.7,343.0 L249.2,343.0 L249.7,343.0 L250.2,343.0 L250.7,343.0 L251.2,343.0 L251.7,343.0 L252.2,343.0 L252.7,343.0 L253.2,343.0 L253.7,343.0 L254.2,343.0 L254.7,343.0 L255.2,343.0 L255.7,343.0 L256.2,343.0 L256.7,343.0 L257.2,343.0 L257.7,343.0 L258.2,343.0 L258.7,343.0 L259.2,343.0 L259.7,343.0 L260.2,343.0 L260.7,342.9 L261.2,342.7 L261.7,342.5 L262.2,342.4 L262.7,342.3 L263.2,342.2 L263.7,342.2 L264.2,342.3 L264.7,342.8 L265.2,343.4 L265.7,343.6 L266.2,342.7 L266.7,341.2 L267.2,339.9 L267.7,339.5 L268.2,340.5 L268.7,342.1 L269.2,343.5 L269.7,343.9 L270.2,342.1 L270.7,338.8 L271.2,335.9 L271.7,335.1 L272.2,337.2 L272.7,340.6 L273.2,343.2 L273.7,342.5 L274.2,338.3 L274.7,334.2 L275.2,333.5 L275.7,335.8 L276.2,339.3 L276.7,342.0 L277.2,342.4 L277.7,340.6 L278.2,338.0 L278.7,335.9 L279.2,335.7 L279.7,337.5 L280.2,339.9 L280.7,341.4 L281.2,341.0 L281.7,339.7 L282.2,338.5 L282.7,338.8 L283.2,340.2 L283.7,340.8 L284.2,339.9 L284.7,338.5 L285.2,337.2 L285.7,336.8 L286.2,337.7 L286.7,339.2 L287.2,340.6 L287.7,341.3 L288.2,341.5 L288.7,341.6 L289.2,341.8 L289.7,341.9 L290.2,342.1 L290.7,342.3 L291.2,342.6 L291.7,342.8 L292.2,343.1 L292.7,343.4 L293.2,343.7 L293.7,344.1 L294.2,344.3 L294.7,344.5 L295.2,344.5 L295.7,344.5 L296.2,344.5 L296.7,344.5 L297.2,344.5 L297.7,344.5 L298.2,344.5 L298.7,344.5 L299.2,344.5 L299.7,344.5 L300.2,344.5 L300.7,344.5 L301.2,344.5 L301.7,344.5 L302.2,344.5 L302.7,344.5 L303.2,344.5 L303.7,344.5 L304.2,344.5 L304.7,344.5 L305.2,344.5 L305.7,344.5 L306.2,344.5 L306.7,344.6 L307.2,344.6 L307.7,344.7 L308.2,344.8 L308.7,344.8 L309.2,344.9 L309.7,345.0 L310.2,345.0 L310.7,345.1 L311.2,345.2 L311.7,345.3 L312.2,345.3 L312.7,345.4 L313.2,345.5 L313.7,345.5 L314.2,345.5 L314.7,345.4 L315.2,345.1 L315.7,344.7 L316.2,344.3 L316.7,343.7 L317.2,342.5 L317.7,340.9 L318.2,339.4 L318.7,337.7 L319.2,336.4 L319.7,336.5 L320.2,337.8 L320.7,339.4 L321.2,340.5 L321.7,341.1 L322.2,341.6 L322.7,342.1 L323.2,342.4 L323.7,342.5 L324.2,342.3 L324.7,341.7 L325.2,341.0 L325.7,340.3 L326.2,340.0 L326.7,340.3 L327.2,341.0 L327.7,341.9 L328.2,342.7 L328.7,343.1 L329.2,342.9 L329.7,342.4 L330.2,341.7 L330.7,341.0 L331.2,340.4 L331.7,340.0 L332.2,340.1 L332.7,340.4 L333.2,341.0 L333.7,341.5 L334.2,342.1 L334.7,342.4 L335.2,342.5 L335.7,342.3 L336.2,341.9 L336.7,341.4 L337.2,341.0 L337.7,340.7 L338.2,340.6 L338.7,341.5 L339.2,342.9 L339.7,344.1 L340.2,344.4 L340.7,344.4 L341.2,344.3 L341.7,344.2 L342.2,344.1 L342.7,344.0 L343.2,343.9 L343.7,343.8 L344.2,343.6 L344.7,343.4 L345.2,343.1 L345.7,342.8 L346.2,342.5 L346.7,342.2 L347.2,342.0 L347.7,341.8 L348.2,341.7 L348.7,341.6 L349.2,341.5 L349.7,341.4 L350.2,341.3 L350.7,341.3 L351.2,341.3 L351.7,341.3 L352.2,341.4 L352.7,341.5 L353.2,341.6 L353.7,341.7 L354.2,341.8 L354.7,341.9 L355.2,341.9 L355.7,341.7 L356.2,341.4 L356.7,341.1 L357.2,340.7 L357.7,340.4 L358.2,340.1 L358.7,340.0 L359.2,340.0 L359.7,340.0 L360.2,340.0 L360.7,340.0 L361.2,340.0 L361.7,340.0 L362.2,340.0 L362.7,340.0 L363.2,340.0 L363.7,340.1 L364.2,340.2 L364.7,340.3 L365.2,340.5 L365.7,340.6 L366.2,340.9 L366.7,341.3 L367.2,341.8 L367.7,342.2 L368.2,342.6 L368.7,342.8 L369.2,343.1 L369.7,343.3 L370.2,343.5 L370.7,343.7 L371.2,343.7 L371.7,343.7 L372.2,343.5 L372.7,343.3 L373.2,343.2 L373.7,343.1 L374.2,343.2 L374.7,343.5 L375.2,343.9 L375.7,344.2 L376.2,344.4 L376.7,344.2 L377.2,343.7 L377.7,343.1 L378.2,342.4 L378.7,341.9 L379.2,341.6 L379.7,341.3 L380.2,341.1 L380.7,340.9 L381.2,340.7 L381.7,340.4 L382.2,340.2 L382.7,339.9 L383.2,339.4 L383.7,338.9 L384.2,338.5 L384.7,338.2 L385.2,338.2 L385.7,338.7 L386.2,339.6 L386.7,340.5 L387.2,341.1 L387.7,341.2 L388.2,340.9 L388.7,340.4 L389.2,339.8 L389.7,339.5 L390.2,339.4 L390.7,339.9 L391.2,340.6 L391.7,341.3 L392.2,341.8 L392.7,341.9 L393.2,341.8 L393.7,341.6 L394.2,341.4 L394.7,341.3 L395.2,341.3 L395.7,341.7 L396.2,342.3 L396.7,343.0 L397.2,343.6 L397.7,343.8 L398.2,344.0 L398.7,344.1 L399.2,344.2 L399.7,344.3 L400.2,344.3 L400.7,344.4 L401.2,344.4 L401.7,344.4 L402.2,344.4 L402.7,344.4 L403.2,344.4 L403.7,344.4 L404.2,344.4 L404.7,344.4 L405.2,344.4 L405.7,344.4 L406.2,344.4 L406.7,344.4 L407.2,344.4 L407.7,344.4 L408.2,344.3 L408.7,344.3 L409.2,344.2 L409.7,344.2 L410.2,344.1 L410.7,344.0 L411.2,344.0 L411.7,343.9 L412.2,343.8 L412.7,343.7 L413.2,343.5 L413.7,343.3 L414.2,342.9 L414.7,342.6 L415.2,342.2 L415.7,341.9 L416.2,341.6 L416.7,341.4 L417.2,341.3 L417.7,341.2 L418.2,341.2 L418.7,341.2 L419.2,341.2 L419.7,341.2 L420.2,340.5 L420.7,334.3 L421.2,328.9 L421.7,327.9 L422.2,327.4 L422.7,326.9 L423.2,326.0 L423.7,323.5 L424.2,320.5 L424.7,318.3 L425.2,316.3 L425.7,313.8 L426.2,309.6 L426.7,304.8 L427.2,301.2 L427.7,300.8 L428.2,303.7 L428.7,308.4 L429.2,313.1 L429.7,316.0 L430.2,315.0 L430.7,308.5 L431.2,299.3 L431.7,290.3 L432.2,284.8 L432.7,285.2 L433.2,290.4 L433.7,298.0 L434.2,305.9 L434.7,311.8 L435.2,313.4 L435.7,308.9 L436.2,300.3 L436.7,290.0 L437.2,280.8 L437.7,275.4 L438.2,276.1 L438.7,282.8 L439.2,292.5 L439.7,302.2 L440.2,308.9 L440.7,309.6 L441.2,303.9 L441.7,294.4 L442.2,284.2 L442.7,276.2 L443.2,273.4 L443.7,276.3 L444.2,282.6 L444.7,290.3 L445.2,297.6 L445.7,302.4 L446.2,302.9 L446.7,299.1 L447.2,293.0 L447.7,286.6 L448.2,282.2 L448.7,281.6 L449.2,284.7 L449.7,290.0 L450.2,296.3 L450.7,302.3 L451.2,306.9 L451.7,308.7 L452.2,307.9 L452.7,305.9 L453.2,303.3 L453.7,300.6 L454.2,298.3 L454.7,296.9 L455.2,297.2 L455.7,299.3 L456.2,302.5 L456.7,306.2 L457.2,309.8 L457.7,312.4 L458.2,313.4 L458.7,312.3 L459.2,309.5 L459.7,305.9 L460.2,302.3 L460.7,299.4 L461.2,298.1 L461.7,298.8 L462.2,300.9 L462.7,303.6 L463.2,306.2 L463.7,308.2 L464.2,308.7 L464.7,307.7 L465.2,305.8 L465.7,303.3 L466.2,300.9 L466.7,299.0 L467.2,298.1 L467.7,298.6 L468.2,299.9 L468.7,301.9 L469.2,303.9 L469.7,305.8 L470.2,307.1 L470.7,307.4 L471.2,305.5 L471.7,301.7 L472.2,297.3 L472.7,293.2 L473.2,290.8 L473.7,291.1 L474.2,293.8 L474.7,298.1 L475.2,302.9 L475.7,307.3 L476.2,310.4 L476.7,311.2 L477.2,308.6 L477.7,303.5 L478.2,297.5 L478.7,292.1 L479.2,288.8 L479.7,289.3 L480.2,293.8 L480.7,300.6 L481.2,308.1 L481.7,314.6 L482.2,318.4 L482.7,318.2 L483.2,314.8 L483.7,310.0 L484.2,305.2 L484.7,301.9 L485.2,301.5 L485.7,303.9 L486.2,308.1 L486.7,313.1 L487.2,317.7 L487.7,321.0 L488.2,321.8 L488.7,320.1 L489.2,316.6 L489.7,312.5 L490.2,308.6 L490.7,306.1 L491.2,305.9 L491.7,308.8 L492.2,313.7 L492.7,319.1 L493.2,323.5 L493.7,325.6 L494.2,324.9 L494.7,323.0 L495.2,320.6 L495.7,318.5 L496.2,317.5 L496.7,318.2 L497.2,320.2 L497.7,323.0 L498.2,325.9 L498.7,328.4 L499.2,329.9 L499.7,329.5 L500.2,327.0 L500.7,323.4 L501.2,319.9 L501.7,317.7 L502.2,317.7 L502.7,318.9 L503.2,320.8 L503.7,322.9 L504.2,324.8 L504.7,326.0 L505.2,326.1 L505.7,324.7 L506.2,322.4 L506.7,320.1 L507.2,318.4 L507.7,318.2 L508.2,319.2 L508.7,320.8 L509.2,322.8 L509.7,324.6 L510.2,325.9 L510.7,326.2 L511.2,325.6 L511.7,324.3 L512.2,322.7 L512.7,321.2 L513.2,320.0 L513.7,319.4 L514.2,319.8 L514.7,321.0 L515.2,322.7 L515.7,324.5 L516.2,326.0 L516.7,326.8 L517.2,326.7 L517.7,325.7 L518.2,324.0 L518.7,322.3 L519.2,320.6 L519.7,319.6 L520.2,319.5 L520.7,320.4 L521.2,322.1 L521.7,324.2 L522.2,326.3 L522.7,328.1 L523.2,329.2 L523.7,329.3 L524.2,328.5 L524.7,327.1 L525.2,325.3 L525.7,323.6 L526.2,322.1 L526.7,321.3 L527.2,321.4 L527.7,322.2 L528.2,323.4 L528.7,324.8 L529.2,326.0 L529.7,326.8 L530.2,326.8 L530.7,326.2 L531.2,325.1 L531.7,323.9 L532.2,323.2 L532.7,323.1 L533.2,324.3 L533.7,326.3 L534.2,328.3 L534.7,329.7 L535.2,329.9 L535.7,328.9 L536.2,327.2 L536.7,325.4 L537.2,324.2 L537.7,324.1 L538.2,325.0 L538.7,326.5 L539.2,328.2 L539.7,329.8 L540.2,330.8 L540.7,330.9 L541.2,329.9 L541.7,328.2 L542.2,326.2 L542.7,324.2 L543.2,322.7 L543.7,322.0 L544.2,322.6 L544.7,324.3 L545.2,326.3 L545.7,327.7 L546.2,327.9 L546.7,326.3 L547.2,323.5 L547.7,319.8 L548.2,315.7 L548.7,311.6 L549.2,306.7 L549.7,301.1 L550.2,297.6 L550.7,295.1 L551.2,293.4 L551.7,293.4 L552.2,296.1 L552.7,300.0 L553.2,303.1 L553.7,303.5 L554.2,301.3 L554.7,297.2 L555.2,292.4 L555.7,287.5 L556.2,283.5 L556.7,281.2 L557.2,281.6 L557.7,284.7 L558.2,289.3 L558.7,294.2 L559.2,298.2 L559.7,300.0 L560.2,298.4 L560.7,294.3 L561.2,289.7 L561.7,286.6 L562.2,286.5 L562.7,288.2 L563.2,290.9 L563.7,294.4 L564.2,298.1 L564.7,301.8 L565.2,304.9 L565.7,307.1 L566.2,308.1 L566.7,307.4 L567.2,305.4 L567.7,302.5 L568.2,299.3 L568.7,296.3 L569.2,294.1 L569.7,293.1 L570.2,293.9 L570.7,296.2 L571.2,299.2 L571.7,302.1 L572.2,304.0 L572.7,304.3 L573.2,303.6 L573.5,302.8"/>
<path stroke="#00A9AD" d="M70.2,346.5 L70.7,346.5 L71.2,346.5 L71.7,346.5 L72.2,346.5 L72.7,346.5 L73.2,346.5 L73.7,346.5 L74.2,346.5 L74.7,346.5 L75.2,346.5 L75.7,346.5 L76.2,346.5 L76.7,346.5 L77.2,346.5 L77.7,346.5 L78.2,346.5 L78.7,346.5 L79.2,346.5 L79.7,346.5 L80.2,346.5 L80.7,346.5 L81.2,346.5 L81.7,346.5 L82.2,346.5 L82.7,346.5 L83.2,346.5 L83.7,346.5 L84.2,346.5 L84.7,346.5 L85.2,346.5 L85.7,346.5 L86.2,346.5 L86.7,346.5 L87.2,346.5 L87.7,346.5 L88.2,346.5 L88.7,346.5 L89.2,346.5 L89.7,346.5 L90.2,346.5 L90.7,346.5 L91.2,346.5 L91.7,346.5 L92.2,346.5 L92.7,346.5 L93.2,346.5 L93.7,346.5 L94.2,346.5 L94.7,346.5 L95.2,346.5 L95.7,346.5 L96.2,346.5 L96.7,346.5 L97.2,346.5 L97.7,346.5 L98.2,346.5 L98.7,346.5 L99.2,346.5 L99.7,346.5 L100.2,346.5 L100.7,346.5 L101.2,346.5 L101.7,346.5 L102.2,346.5 L102.7,346.5 L103.2,346.5 L103.7,346.5 L104.2,346.5 L104.7,346.5 L105.2,346.5 L105.7,346.5 L106.2,346.5 L106.7,346.5 L107.2,346.5 L107.7,346.5 L108.2,346.5 L108.7,346.5 L109.2,346.5 L109.7,346.5 L110.2,346.5 L110.7,346.5 L111.2,346.5 L111.7,346.5 L112.2,346.5 L112.7,346.5 L113.2,346.5 L113.7,346.5 L114.2,346.5 L114.7,346.5 L115.2,346.5 L115.7,346.5 L116.2,346.5 L116.7,346.5 L117.2,346.5 L117.7,346.5 L118.2,346.5 L118.7,346.5 L119.2,346.5 L119.7,346.5 L120.2,346.5 L120.7,346.5 L121.2,346.5 L121.7,346.5 L122.2,346.5 L122.7,346.5 L123.2,346.5 L123.7,346.5 L124.2,346.5 L124.7,346.5 L125.2,346.5 L125.7,346.5 L126.2,346.5 L126.7,346.5 L127.2,346.5 L127.7,346.5 L128.2,346.5 L128.7,346.5 L129.2,346.5 L129.7,346.5 L130.2,346.5 L130.7,346.5 L131.2,346.5 L131.7,346.5 L132.2,346.5 L132.7,346.5 L133.2,346.5 L133.7,346.5 L134.2,346.5 L134.7,346.5 L135.2,346.5 L135.7,346.5 L136.2,346.5 L136.7,346.5 L137.2,346.5 L137.7,346.5 L138.2,346.5 L138.7,346.5 L139.2,346.5 L139.7,346.5 L140.2,346.5 L140.7,346.5 L141.2,346.5 L141.7,346.5 L142.2,346.5 L142.7,346.5 L143.2,346.5 L143.7,346.5 L144.2,346.5 L144.7,346.5 L145.2,346.5 L145.7,346.5 L146.2,346.5 L146.7,346.5 L147.2,346.5 L147.7,346.5 L148.2,346.5 L148.7,346.5 L149.2,346.5 L149.7,346.4 L150.2,346.4 L150.7,346.3 L151.2,346.3 L151.7,346.2 L152.2,346.1 L152.7,346.0 L153.2,345.9 L153.7,345.9 L154.2,345.9 L154.7,345.9 L155.2,345.8 L155.7,345.6 L156.2,345.4 L156.7,345.3 L157.2,345.3 L157.7,345.4 L158.2,345.5 L158.7,345.6 L159.2,345.4 L159.7,345.1 L160.2,344.7 L160.7,344.6 L161.2,344.7 L161.7,345.0 L162.2,345.2 L162.7,345.3 L163.2,345.0 L163.7,344.7 L164.2,344.4 L164.7,344.4 L165.2,344.6 L165.7,344.9 L166.2,345.1 L166.7,345.1 L167.2,344.9 L167.7,344.5 L168.2,344.3 L168.7,344.3 L169.2,344.6 L169.7,344.9 L170.2,345.0 L170.7,345.0 L171.2,344.7 L171.7,344.4 L172.2,344.2 L172.7,344.3 L173.2,344.5 L173.7,344.8 L174.2,344.9 L174.7,344.8 L175.2,344.5 L175.7,344.2 L176.2,344.1 L176.7,344.2 L177.2,344.5 L177.7,344.7 L178.2,344.8 L178.7,344.7 L179.2,344.3 L179.7,344.1 L180.2,344.0 L180.7,344.1 L181.2,344.4 L181.7,344.7 L182.2,344.7 L182.7,344.5 L183.2,344.2 L183.7,343.9 L184.2,343.9 L184.7,344.1 L185.2,344.4 L185.7,344.6 L186.2,344.6 L186.7,344.4 L187.2,344.1 L187.7,343.9 L188.2,343.9 L188.7,344.1 L189.2,344.4 L189.7,344.6 L190.2,344.6 L190.7,344.3 L191.2,344.0 L191.7,343.8 L192.2,343.9 L192.7,344.1 L193.2,344.4 L193.7,344.5 L194.2,344.4 L194.7,344.1 L195.2,343.8 L195.7,343.7 L196.2,343.8 L196.7,344.0 L197.2,344.3 L197.7,344.4 L198.2,344.2 L198.7,343.9 L199.2,343.6 L199.7,343.5 L200.2,343.7 L200.7,344.0 L201.2,344.2 L201.7,344.3 L202.2,344.1 L202.7,343.7 L203.2,343.5 L203.7,343.5 L204.2,343.7 L204.7,344.0 L205.2,344.2 L205.7,344.2 L206.2,344.0 L206.7,343.6 L207.2,343.4 L207.7,343.5 L208.2,343.7 L208.7,344.0 L209.2,344.2 L209.7,344.1 L210.2,343.8 L210.7,343.5 L211.2,343.3 L211.7,343.3 L212.2,343.5 L212.7,343.8 L213.2,343.9 L213.7,343.7 L214.2,343.4 L214.7,343.1 L215.2,343.0 L215.7,342.9 L216.2,341.7 L216.7,339.8 L217.2,338.6 L217.7,338.8 L218.2,340.0 L218.7,341.5 L219.2,342.5 L219.7,342.3 L220.2,340.1 L220.7,337.3 L221.2,336.0 L221.7,337.2 L222.2,339.7 L222.7,341.8 L223.2,342.0 L223.7,339.6 L224.2,336.5 L224.7,335.0 L225.2,336.2 L225.7,338.8 L226.2,341.2 L226.7,341.9 L227.2,339.9 L227.7,336.7 L228.2,334.4 L228.7,334.8 L229.2,337.1 L229.7,339.7 L230.2,341.2 L230.7,340.5 L231.2,338.0 L231.7,335.2 L232.2,333.6 L232.7,334.1 L233.2,335.7 L233.7,337.7 L234.2,339.2 L234.7,339.4 L235.2,338.2 L235.7,336.5 L236.2,335.1 L236.7,334.6 L237.2,335.7 L237.7,337.2 L238.2,338.0 L238.7,338.5 L239.2,338.8 L239.7,338.7 L240.2,338.5 L240.7,338.2 L241.2,338.1 L241.7,338.3 L242.2,338.8 L242.7,339.3 L243.2,339.8 L243.7,339.9 L244.2,339.8 L244.7,339.6 L245.2,339.4 L245.7,339.2 L246.2,339.0 L246.7,338.8 L247.2,338.6 L247.7,338.5 L248.2,338.6 L248.7,338.7 L249.2,338.9 L249.7,339.1 L250.2,339.2 L250.7,339.3 L251.2,339.4 L251.7,339.4 L252.2,339.5 L252.7,339.5 L253.2,339.5 L253.7,339.4 L254.2,339.2 L254.7,339.0 L255.2,338.8 L255.7,338.6 L256.2,338.4 L256.7,338.3 L257.2,338.2 L257.7,338.1 L258.2,338.0 L258.7,338.0 L259.2,338.1 L259.7,338.5 L260.2,338.9 L260.7,339.2 L261.2,339.1 L261.7,338.9 L262.2,338.5 L262.7,338.1 L263.2,337.6 L263.7,336.9 L264.2,336.3 L264.7,336.0 L265.2,336.7 L265.7,338.4 L266.2,338.6 L266.7,336.5 L267.2,333.6 L267.7,331.3 L268.2,331.1 L268.7,333.6 L269.2,337.2 L269.7,339.7 L270.2,338.9 L270.7,333.8 L271.2,328.3 L271.7,326.5 L272.2,329.3 L272.7,334.2 L273.2,338.9 L273.7,341.0 L274.2,338.6 L274.7,333.3 L275.2,328.4 L275.7,326.9 L276.2,329.5 L276.7,334.1 L277.2,338.2 L277.7,339.4 L278.2,335.8 L278.7,329.8 L279.2,325.2 L279.7,325.0 L280.2,328.8 L280.7,333.5 L281.2,336.4 L281.7,334.9 L282.2,330.0 L282.7,324.8 L283.2,322.4 L283.7,324.1 L284.2,328.0 L284.7,331.8 L285.2,333.5 L285.7,332.1 L286.2,329.0 L286.7,325.9 L287.2,324.5 L287.7,325.5 L288.2,327.8 L288.7,330.1 L289.2,331.5 L289.7,331.2 L290.2,330.2 L290.7,329.3 L291.2,328.6 L291.7,328.0 L292.2,327.6 L292.7,327.6 L293.2,328.1 L293.7,328.9 L294.2,329.8 L294.7,330.4 L295.2,330.5 L295.7,330.2 L296.2,329.7 L296.7,329.2 L297.2,328.7 L297.7,328.5 L298.2,328.8 L298.7,329.8 L299.2,330.9 L299.7,331.8 L300.2,332.0 L300.7,331.9 L301.2,331.8 L301.7,331.7 L302.2,331.6 L302.7,331.5 L303.2,331.5 L303.7,331.8 L304.2,332.2 L304.7,332.7 L305.2,333.1 L305.7,333.4 L306.2,333.5 L306.7,333.4 L307.2,333.1 L307.7,332.9 L308.2,332.7 L308.7,332.5 L309.2,332.5 L309.7,332.9 L310.2,333.6 L310.7,334.3 L311.2,335.0 L311.7,335.4 L312.2,335.5 L312.7,335.2 L313.2,334.8 L313.7,334.4 L314.2,334.1 L314.7,334.1 L315.2,334.8 L315.7,335.9 L316.2,336.8 L316.7,336.7 L317.2,334.5 L317.7,331.4 L318.2,329.2 L318.7,327.1 L319.2,325.8 L319.7,326.3 L320.2,329.9 L320.7,334.0 L321.2,336.2 L321.7,335.1 L322.2,332.3 L322.7,329.7 L323.2,328.8 L323.7,331.4 L324.2,335.7 L324.7,339.2 L325.2,339.8 L325.7,338.3 L326.2,335.9 L326.7,333.4 L327.2,331.6 L327.7,331.5 L328.2,333.6 L328.7,336.4 L329.2,338.5 L329.7,338.1 L330.2,335.0 L330.7,331.4 L331.2,329.4 L331.7,330.6 L332.2,333.6 L332.7,336.5 L333.2,337.5 L333.7,336.5 L334.2,334.8 L334.7,333.4 L335.2,333.3 L335.7,335.2 L336.2,337.9 L336.7,339.8 L337.2,339.8 L337.7,339.0 L338.2,338.0 L338.7,337.5 L339.2,337.8 L339.7,338.5 L340.2,339.5 L340.7,340.5 L341.2,341.2 L341.7,341.6 L342.2,341.9 L342.7,342.2 L343.2,342.5 L343.7,342.7 L344.2,342.9 L344.7,343.0 L345.2,343.1 L345.7,343.2 L346.2,343.3 L346.7,343.4 L347.2,343.4 L347.7,343.4 L348.2,343.5 L348.7,343.5 L349.2,343.6 L349.7,343.7 L350.2,343.8 L350.7,344.0 L351.2,344.3 L351.7,344.6 L352.2,344.9 L352.7,345.2 L353.2,345.4 L353.7,345.6 L354.2,345.7 L354.7,345.8 L355.2,345.8 L355.7,345.9 L356.2,346.0 L356.7,346.0 L357.2,346.1 L357.7,346.1 L358.2,346.2 L358.7,346.2 L359.2,346.2 L359.7,346.2 L360.2,346.2 L360.7,346.2 L361.2,346.2 L361.7,346.2 L362.2,346.2 L362.7,346.2 L363.2,346.2 L363.7,346.2 L364.2,346.2 L364.7,346.2 L365.2,346.2 L365.7,346.2 L366.2,346.2 L366.7,346.2 L367.2,346.2 L367.7,346.2 L368.2,346.2 L368.7,346.2 L369.2,346.2 L369.7,346.2 L370.2,346.2 L370.7,345.6 L371.2,344.8 L371.7,343.9 L372.2,343.2 L372.7,343.1 L373.2,343.5 L373.7,344.0 L374.2,344.5 L374.7,344.9 L375.2,345.0 L375.7,344.8 L376.2,344.4 L376.7,343.9 L377.2,343.4 L377.7,342.9 L378.2,342.4 L378.7,341.8 L379.2,341.2 L379.7,340.5 L380.2,339.6 L380.7,338.4 L381.2,336.9 L381.7,335.5 L382.2,334.3 L382.7,333.5 L383.2,332.8 L383.7,332.2 L384.2,331.9 L384.7,332.2 L385.2,333.4 L385.7,334.8 L386.2,335.6 L386.7,335.2 L387.2,334.0 L387.7,332.5 L388.2,331.2 L388.7,330.6 L389.2,331.2 L389.7,332.6 L390.2,333.9 L390.7,334.4 L391.2,334.2 L391.7,333.9 L392.2,333.5 L392.7,333.2 L393.2,333.1 L393.7,333.5 L394.2,334.1 L394.7,334.9 L395.2,335.4 L395.7,335.6 L396.2,334.8 L396.7,333.3 L397.2,331.7 L397.7,330.4 L398.2,330.0 L398.7,330.4 L399.2,331.3 L399.7,332.2 L400.2,332.9 L400.7,333.1 L401.2,332.4 L401.7,331.0 L402.2,329.6 L402.7,328.4 L403.2,328.1 L403.7,328.2 L404.2,328.4 L404.7,328.6 L405.2,328.7 L405.7,328.7 L406.2,328.1 L406.7,327.0 L407.2,325.7 L407.7,324.7 L408.2,324.4 L408.7,324.9 L409.2,325.9 L409.7,327.0 L410.2,327.8 L410.7,328.1 L411.2,327.4 L411.7,326.0 L412.2,324.6 L412.7,323.4 L413.2,323.1 L413.7,323.4 L414.2,324.0 L414.7,324.7 L415.2,325.2 L415.7,325.9 L416.2,326.5 L416.7,326.9 L417.2,326.3 L417.7,323.4 L418.2,320.0 L418.7,318.1 L419.2,319.5 L419.7,323.0 L420.2,326.4 L420.7,327.4 L421.2,325.9 L421.7,322.9 L422.2,319.6 L422.7,317.0 L423.2,316.3 L423.7,319.0 L424.2,323.7 L424.7,328.3 L425.2,330.7 L425.7,332.1 L426.2,333.3 L426.7,334.4 L427.2,336.1 L427.7,338.3 L428.2,340.3 L428.7,341.2 L429.2,340.7 L429.7,339.3 L430.2,338.0 L430.7,337.5 L431.2,338.5 L431.7,340.2 L432.2,341.6 L432.7,341.8 L433.2,340.8 L433.7,339.2 L434.2,337.6 L434.7,336.5 L435.2,336.4 L435.7,337.4 L436.2,338.8 L436.7,339.9 L437.2,339.6 L437.7,337.8 L438.2,335.6 L438.7,334.4 L439.2,335.0 L439.7,336.7 L440.2,338.2 L440.7,338.7 L441.2,338.0 L441.7,336.7 L442.2,335.2 L442.7,334.1 L443.2,333.8 L443.7,334.3 L444.2,335.3 L444.7,336.4 L445.2,337.2 L445.7,337.4 L446.2,336.0 L446.7,333.6 L447.2,331.7 L447.7,331.3 L448.2,331.7 L448.7,332.4 L449.2,333.1 L449.7,333.7 L450.2,333.7 L450.7,333.5 L451.2,333.2 L451.7,332.8 L452.2,332.5 L452.7,332.6 L453.2,333.1 L453.7,334.0 L454.2,334.9 L454.7,335.5 L455.2,335.6 L455.7,335.5 L456.2,335.3 L456.7,335.1 L457.2,335.0 L457.7,335.0 L458.2,335.4 L458.7,335.9 L459.2,336.6 L459.7,337.2 L460.2,337.7 L460.7,338.1 L461.2,338.4 L461.7,338.8 L462.2,339.2 L462.7,339.6 L463.2,340.1 L463.7,340.7 L464.2,341.3 L464.7,341.7 L465.2,342.0 L465.7,342.2 L466.2,342.4 L466.7,342.5 L467.2,342.7 L467.7,342.8 L468.2,342.9 L468.7,343.1 L469.2,343.3 L469.7,343.5 L470.2,343.7 L470.7,343.9 L471.2,344.1 L471.7,344.3 L472.2,344.4 L472.7,344.4 L473.2,344.1 L473.7,343.6 L474.2,343.0 L474.7,342.3 L475.2,341.6 L475.7,340.6 L476.2,339.4 L476.7,338.1 L477.2,336.9 L477.7,335.9 L478.2,335.0 L478.7,334.2 L479.2,333.4 L479.7,332.5 L480.2,331.4 L480.7,329.5 L481.2,327.6 L481.7,326.4 L482.2,326.4 L482.7,327.0 L483.2,327.7 L483.7,328.1 L484.2,327.6 L484.7,326.0 L485.2,324.1 L485.7,322.1 L486.2,319.4 L486.7,317.2 L487.2,318.0 L487.7,322.7 L488.2,326.9 L488.7,330.4 L489.2,332.8 L489.7,332.9 L490.2,331.9 L490.7,330.7 L491.2,330.0 L491.7,331.1 L492.2,333.9 L492.7,336.6 L493.2,337.4 L493.7,336.0 L494.2,333.6 L494.7,331.7 L495.2,331.4 L495.7,332.4 L496.2,333.8 L496.7,334.9 L497.2,334.7 L497.7,333.3 L498.2,331.3 L498.7,329.5 L499.2,328.1 L499.7,326.5 L500.2,325.3 L500.7,325.1 L501.2,327.1 L501.7,330.4 L502.2,333.2 L502.7,333.6 L503.2,331.8 L503.7,329.4 L504.2,327.7 L504.7,327.7 L505.2,328.6 L505.7,330.0 L506.2,331.2 L506.7,332.2 L507.2,333.3 L507.7,334.1 L508.2,334.4 L508.7,333.7 L509.2,332.5 L509.7,331.5 L510.2,331.4 L510.7,333.0 L511.2,335.2 L511.7,336.7 L512.2,336.8 L512.7,336.1 L513.2,335.4 L513.7,335.0 L514.2,335.7 L514.7,337.1 L515.2,337.5 L515.7,337.4 L516.2,337.2 L516.7,337.0 L517.2,336.9 L517.7,336.9 L518.2,337.1 L518.7,337.3 L519.2,337.7 L519.7,338.1 L520.2,338.4 L520.7,338.6 L521.2,338.7 L521.7,338.7 L522.2,338.6 L522.7,338.5 L523.2,338.3 L523.7,338.0 L524.2,337.8 L524.7,337.6 L525.2,337.4 L525.7,337.3 L526.2,337.1 L526.7,337.0 L527.2,336.8 L527.7,336.5 L528.2,336.1 L528.7,334.6 L529.2,332.2 L529.7,329.8 L530.2,328.2 L530.7,326.9 L531.2,326.3 L531.7,328.1 L532.2,331.6 L532.7,332.0 L533.2,327.5 L533.7,320.7 L534.2,314.9 L534.7,313.2 L535.2,316.7 L535.7,321.9 L536.2,325.0 L536.7,324.2 L537.2,322.4 L537.7,321.3 L538.2,322.6 L538.7,325.9 L539.2,329.2 L539.7,330.9 L540.2,332.3 L540.7,333.3 L541.2,333.7 L541.7,332.5 L542.2,329.5 L542.7,326.6 L543.2,325.7 L543.7,328.7 L544.2,333.7 L544.7,337.9 L545.2,338.7 L545.7,338.0 L546.2,337.0 L546.7,335.9 L547.2,335.1 L547.7,335.2 L548.2,337.3 L548.7,340.2 L549.2,342.3 L549.7,342.3 L550.2,341.3 L550.7,339.9 L551.2,338.5 L551.7,337.6 L552.2,337.8 L552.7,339.0 L553.2,340.5 L553.7,341.2 L554.2,340.6 L554.7,339.0 L555.2,337.4 L555.7,336.9 L556.2,337.3 L556.7,337.9 L557.2,338.7 L557.7,339.2 L558.2,339.4 L558.7,338.4 L559.2,336.7 L559.7,335.3 L560.2,335.0 L560.7,335.2 L561.2,335.6 L561.7,335.9 L562.2,336.2 L562.7,336.2 L563.2,335.5 L563.7,334.5 L564.2,333.4 L564.7,332.6 L565.2,332.6 L565.7,333.1 L566.2,334.0 L566.7,334.8 L567.2,335.3 L567.7,335.7 L568.2,336.1 L568.7,336.2 L569.2,336.0 L569.7,335.3 L570.2,334.6 L570.7,334.4 L571.2,334.6 L571.7,335.1 L572.2,335.9 L572.7,337.0 L573.1,338.1"/>
<path stroke="#ED5E93" d="M70.2,346.5 L70.7,346.5 L71.2,346.5 L71.7,346.5 L72.2,346.5 L72.7,346.5 L73.2,346.5 L73.7,346.5 L74.2,346.5 L74.7,346.5 L75.2,346.5 L75.7,346.5 L76.2,346.5 L76.7,346.5 L77.2,346.5 L77.7,346.5 L78.2,346.5 L78.7,346.5 L79.2,346.5 L79.7,346.5 L80.2,346.5 L80.7,346.5 L81.2,346.5 L81.7,346.5 L82.2,346.5 L82.7,346.5 L83.2,346.5 L83.7,346.5 L84.2,346.5 L84.7,346.5 L85.2,346.5 L85.7,346.5 L86.2,346.5 L86.7,346.5 L87.2,346.5 L87.7,346.5 L88.2,346.5 L88.7,346.5 L89.2,346.5 L89.7,346.5 L90.2,346.5 L90.7,346.5 L91.2,346.5 L91.7,346.5 L92.2,346.5 L92.7,346.5 L93.2,346.5 L93.7,346.5 L94.2,346.5 L94.7,346.5 L95.2,346.5 L95.7,346.5 L96.2,346.5 L96.7,346.5 L97.2,346.5 L97.7,346.5 L98.2,346.5 L98.7,346.5 L99.2,346.5 L99.7,346.5 L100.2,346.5 L100.7,346.5 L101.2,346.5 L101.7,346.5 L102.2,346.5 L102.7,346.5 L103.2,346.5 L103.7,346.5 L104.2,346.5 L104.7,346.5 L105.2,346.5 L105.7,346.5 L106.2,346.5 L106.7,346.5 L107.2,346.5 L107.7,346.5 L108.2,346.5 L108.7,346.5 L109.2,346.5 L109.7,346.5 L110.2,346.5 L110.7,346.5 L111.2,346.5 L111.7,346.5 L112.2,346.5 L112.7,346.5 L113.2,346.5 L113.7,346.5 L114.2,346.5 L114.7,346.5 L115.2,346.5 L115.7,346.5 L116.2,346.5 L116.7,346.5 L117.2,346.5 L117.7,346.5 L118.2,346.5 L118.7,346.5 L119.2,346.5 L119.7,346.5 L120.2,346.5 L120.7,346.5 L121.2,346.5 L121.7,346.5 L122.2,346.5 L122.7,346.5 L123.2,346.5 L123.7,346.5 L124.2,346.5 L124.7,346.5 L125.2,346.5 L125.7,346.5 L126.2,346.5 L126.7,346.5 L127.2,346.5 L127.7,346.5 L128.2,346.5 L128.7,346.5 L129.2,346.5 L129.7,346.5 L130.2,346.5 L130.7,346.5 L131.2,346.5 L131.7,346.5 L132.2,346.5 L132.7,346.5 L133.2,346.5 L133.7,346.5 L134.2,346.5 L134.7,346.5 L135.2,346.5 L135.7,346.5 L136.2,346.5 L136.7,346.5 L137.2,346.5 L137.7,346.5 L138.2,346.5 L138.7,346.5 L139.2,346.5 L139.7,346.5 L140.2,346.5 L140.7,346.5 L141.2,346.5 L141.7,346.5 L142.2,346.5 L142.7,346.5 L143.2,346.5 L143.7,346.5 L144.2,346.5 L144.7,346.5 L145.2,346.5 L145.7,346.5 L146.2,346.5 L146.7,346.5 L147.2,346.5 L147.7,346.5 L148.2,346.5 L148.7,346.5 L149.2,346.5 L149.7,346.4 L150.2,346.4 L150.7,346.4 L151.2,346.3 L151.7,346.2 L152.2,346.2 L152.7,346.1 L153.2,346.1 L153.7,346.1 L154.2,346.0 L154.7,345.8 L155.2,345.7 L155.7,345.6 L156.2,345.6 L156.7,345.6 L157.2,345.7 L157.7,345.7 L158.2,345.6 L158.7,345.3 L159.2,345.1 L159.7,344.9 L160.2,344.9 L160.7,345.1 L161.2,345.3 L161.7,345.4 L162.2,345.3 L162.7,345.0 L163.2,344.7 L163.7,344.6 L164.2,344.6 L164.7,344.8 L165.2,345.1 L165.7,345.2 L166.2,345.1 L166.7,344.9 L167.2,344.7 L167.7,344.5 L168.2,344.5 L168.7,344.7 L169.2,344.9 L169.7,345.1 L170.2,345.1 L170.7,344.9 L171.2,344.6 L171.7,344.4 L172.2,344.4 L172.7,344.5 L173.2,344.8 L173.7,344.9 L174.2,345.0 L174.7,344.8 L175.2,344.5 L175.7,344.3 L176.2,344.2 L176.7,344.3 L177.2,344.6 L177.7,344.8 L178.2,344.9 L178.7,344.7 L179.2,344.5 L179.7,344.3 L180.2,344.2 L180.7,344.2 L181.2,344.5 L181.7,344.7 L182.2,344.8 L182.7,344.8 L183.2,344.5 L183.7,344.3 L184.2,344.2 L184.7,344.2 L185.2,344.4 L185.7,344.7 L186.2,344.8 L186.7,344.8 L187.2,344.6 L187.7,344.3 L188.2,344.2 L188.7,344.2 L189.2,344.4 L189.7,344.6 L190.2,344.7 L190.7,344.7 L191.2,344.5 L191.7,344.2 L192.2,344.0 L192.7,343.9 L193.2,344.0 L193.7,344.3 L194.2,344.4 L194.7,344.5 L195.2,344.3 L195.7,344.0 L196.2,343.8 L196.7,343.8 L197.2,343.9 L197.7,344.1 L198.2,344.4 L198.7,344.4 L199.2,344.3 L199.7,344.1 L200.2,343.9 L200.7,343.8 L201.2,343.8 L201.7,344.1 L202.2,344.3 L202.7,344.4 L203.2,344.4 L203.7,344.1 L204.2,343.9 L204.7,343.8 L205.2,343.8 L205.7,344.0 L206.2,344.3 L206.7,344.4 L207.2,344.3 L207.7,344.1 L208.2,343.8 L208.7,343.6 L209.2,343.6 L209.7,343.8 L210.2,344.0 L210.7,344.2 L211.2,344.2 L211.7,344.0 L212.2,343.7 L212.7,343.4 L213.2,343.4 L213.7,343.5 L214.2,343.7 L214.7,343.7 L215.2,343.5 L215.7,343.1 L216.2,342.7 L216.7,342.4 L217.2,342.4 L217.7,343.3 L218.2,344.4 L218.7,345.1 L219.2,344.6 L219.7,343.4 L220.2,342.2 L220.7,342.1 L221.2,343.0 L221.7,344.1 L222.2,344.7 L222.7,344.2 L223.2,343.0 L223.7,341.8 L224.2,341.7 L224.7,342.3 L225.2,343.2 L225.7,343.7 L226.2,342.5 L226.7,340.7 L227.2,340.9 L227.7,341.9 L228.2,342.8 L228.7,342.8 L229.2,341.2 L229.7,339.1 L230.2,337.8 L230.7,338.1 L231.2,339.3 L231.7,340.6 L232.2,341.5 L232.7,341.1 L233.2,338.8 L233.7,336.2 L234.2,335.0 L234.7,335.8 L235.2,337.4 L235.7,338.7 L236.2,338.4 L236.7,336.3 L237.2,334.0 L237.7,332.9 L238.2,333.5 L238.7,334.6 L239.2,335.5 L239.7,335.5 L240.2,334.9 L240.7,334.0 L241.2,333.3 L241.7,333.3 L242.2,333.8 L242.7,334.7 L243.2,335.4 L243.7,335.6 L244.2,335.5 L244.7,335.3 L245.2,335.1 L245.7,335.0 L246.2,335.1 L246.7,335.5 L247.2,335.8 L247.7,336.0 L248.2,336.0 L248.7,336.0 L249.2,336.0 L249.7,336.0 L250.2,336.0 L250.7,336.2 L251.2,336.4 L251.7,336.7 L252.2,336.9 L252.7,336.8 L253.2,336.5 L253.7,335.9 L254.2,335.5 L254.7,335.2 L255.2,335.5 L255.7,336.4 L256.2,337.1 L256.7,337.1 L257.2,336.7 L257.7,336.1 L258.2,335.5 L258.7,335.2 L259.2,335.7 L259.7,336.9 L260.2,337.1 L260.7,336.2 L261.2,335.2 L261.7,334.8 L262.2,335.6 L262.7,336.6 L263.2,337.2 L263.7,336.7 L264.2,335.8 L264.7,335.2 L265.2,335.6 L265.7,337.1 L266.2,338.9 L266.7,340.5 L267.2,341.2 L267.7,340.1 L268.2,337.9 L268.7,336.5 L269.2,337.1 L269.7,339.1 L270.2,341.4 L270.7,342.8 L271.2,341.9 L271.7,339.1 L272.2,335.9 L272.7,334.1 L273.2,334.8 L273.7,337.4 L274.2,340.3 L274.7,341.9 L275.2,340.9 L275.7,337.4 L276.2,333.5 L276.7,331.3 L277.2,332.1 L277.7,334.8 L278.2,337.8 L278.7,339.5 L279.2,338.3 L279.7,334.3 L280.2,329.9 L280.7,327.3 L281.2,328.3 L281.7,331.6 L282.2,335.0 L282.7,336.4 L283.2,333.6 L283.7,328.3 L284.2,323.7 L284.7,322.6 L285.2,325.6 L285.7,330.0 L286.2,333.2 L286.7,332.9 L287.2,329.6 L287.7,325.7 L288.2,323.6 L288.7,325.1 L289.2,328.8 L289.7,332.1 L290.2,332.7 L290.7,331.7 L291.2,330.3 L291.7,329.2 L292.2,329.1 L292.7,330.3 L293.2,331.8 L293.7,332.8 L294.2,333.5 L294.7,334.2 L295.2,334.7 L295.7,335.2 L296.2,335.6 L296.7,335.9 L297.2,336.3 L297.7,336.7 L298.2,337.1 L298.7,337.6 L299.2,338.0 L299.7,338.4 L300.2,338.6 L300.7,338.7 L301.2,338.7 L301.7,338.8 L302.2,338.9 L302.7,339.0 L303.2,339.0 L303.7,339.1 L304.2,339.2 L304.7,339.2 L305.2,339.3 L305.7,339.4 L306.2,339.6 L306.7,340.0 L307.2,340.5 L307.7,340.9 L308.2,341.0 L308.7,340.7 L309.2,340.4 L309.7,340.1 L310.2,340.0 L310.7,340.0 L311.2,340.0 L311.7,340.0 L312.2,340.0 L312.7,339.9 L313.2,339.8 L313.7,339.7 L314.2,339.6 L314.7,339.5 L315.2,339.4 L315.7,339.3 L316.2,339.2 L316.7,339.1 L317.2,338.8 L317.7,337.5 L318.2,335.7 L318.7,334.3 L319.2,334.3 L319.7,336.4 L320.2,339.1 L320.7,339.9 L321.2,336.5 L321.7,330.7 L322.2,326.0 L322.7,325.8 L323.2,331.6 L323.7,336.2 L324.2,334.8 L324.7,331.0 L325.2,327.5 L325.7,326.3 L326.2,328.9 L326.7,333.2 L327.2,336.7 L327.7,337.2 L328.2,335.3 L328.7,333.8 L329.2,335.0 L329.7,338.1 L330.2,341.3 L330.7,342.6 L331.2,342.9 L331.7,343.1 L332.2,343.3 L332.7,343.4 L333.2,343.5 L333.7,343.7 L334.2,344.0 L334.7,344.3 L335.2,344.6 L335.7,344.9 L336.2,345.2 L336.7,345.4 L337.2,345.6 L337.7,345.6 L338.2,345.6 L338.7,345.6 L339.2,345.5 L339.7,345.5 L340.2,345.4 L340.7,345.3 L341.2,345.3 L341.7,345.2 L342.2,345.1 L342.7,344.9 L343.2,344.7 L343.7,344.3 L344.2,343.8 L344.7,343.2 L345.2,342.7 L345.7,342.3 L346.2,341.9 L346.7,341.7 L347.2,341.4 L347.7,341.2 L348.2,341.0 L348.7,340.8 L349.2,340.7 L349.7,340.6 L350.2,340.6 L350.7,340.8 L351.2,341.1 L351.7,341.4 L352.2,341.8 L352.7,342.1 L353.2,342.4 L353.7,342.5 L354.2,342.4 L354.7,342.2 L355.2,341.9 L355.7,341.5 L356.2,341.1 L356.7,340.8 L357.2,340.6 L357.7,340.6 L358.2,340.7 L358.7,340.9 L359.2,341.2 L359.7,341.4 L360.2,341.7 L360.7,341.8 L361.2,341.9 L361.7,341.8 L362.2,341.7 L362.7,341.5 L363.2,341.2 L363.7,341.0 L364.2,340.8 L364.7,340.6 L365.2,340.6 L365.7,340.8 L366.2,341.2 L366.7,341.7 L367.2,342.2 L367.7,342.6 L368.2,343.0 L368.7,343.1 L369.2,343.1 L369.7,343.0 L370.2,342.9 L370.7,342.8 L371.2,342.7 L371.7,342.6 L372.2,342.5 L372.7,342.6 L373.2,343.1 L373.7,344.0 L374.2,344.9 L374.7,345.5 L375.2,345.5 L375.7,344.3 L376.2,342.4 L376.7,340.4 L377.2,339.0 L377.7,338.9 L378.2,339.9 L378.7,341.3 L379.2,342.4 L379.7,342.1 L380.2,340.0 L380.7,337.6 L381.2,336.3 L381.7,336.8 L382.2,338.2 L382.7,339.5 L383.2,340.0 L383.7,339.3 L384.2,338.0 L384.7,336.8 L385.2,336.0 L385.7,335.3 L386.2,334.6 L386.7,334.1 L387.2,333.8 L387.7,333.9 L388.2,334.9 L388.7,336.3 L389.2,337.4 L389.7,337.4 L390.2,337.0 L390.7,336.5 L391.2,336.0 L391.7,335.6 L392.2,335.8 L392.7,336.7 L393.2,337.8 L393.7,338.7 L394.2,339.2 L394.7,339.7 L395.2,340.2 L395.7,340.5 L396.2,340.6 L396.7,340.6 L397.2,340.5 L397.7,340.4 L398.2,340.3 L398.7,340.2 L399.2,340.1 L399.7,340.0 L400.2,340.0 L400.7,340.3 L401.2,340.8 L401.7,341.3 L402.2,341.7 L402.7,342.0 L403.2,342.2 L403.7,342.4 L404.2,342.6 L404.7,342.7 L405.2,342.8 L405.7,343.0 L406.2,343.1 L406.7,343.2 L407.2,343.3 L407.7,343.4 L408.2,343.5 L408.7,343.6 L409.2,343.7 L409.7,343.7 L410.2,343.7 L410.7,343.7 L411.2,343.7 L411.7,343.6 L412.2,343.5 L412.7,343.3 L413.2,343.2 L413.7,343.1 L414.2,343.0 L414.7,342.8 L415.2,342.6 L415.7,342.4 L416.2,342.2 L416.7,342.0 L417.2,341.9 L417.7,341.9 L418.2,342.0 L418.7,342.1 L419.2,342.2 L419.7,342.4 L420.2,342.5 L420.7,342.4 L421.2,340.4 L421.7,337.1 L422.2,334.3 L422.7,333.9 L423.2,335.3 L423.7,337.2 L424.2,338.6 L424.7,338.3 L425.2,336.3 L425.7,333.8 L426.2,332.5 L426.7,332.9 L427.2,333.8 L427.7,334.7 L428.2,334.9 L428.7,332.3 L429.2,328.1 L429.7,324.5 L430.2,324.1 L430.7,327.2 L431.2,331.5 L431.7,334.7 L432.2,334.8 L432.7,334.0 L433.2,333.0 L433.7,332.5 L434.2,333.4 L434.7,335.8 L435.2,338.0 L435.7,338.7 L436.2,338.2 L436.7,337.2 L437.2,336.4 L437.7,336.3 L438.2,337.0 L438.7,338.0 L439.2,339.1 L439.7,339.9 L440.2,340.0 L440.7,339.8 L441.2,339.6 L441.7,339.3 L442.2,339.0 L442.7,338.8 L443.2,338.8 L443.7,338.9 L444.2,339.1 L444.7,339.4 L445.2,339.7 L445.7,339.9 L446.2,340.0 L446.7,340.0 L447.2,340.0 L447.7,339.9 L448.2,339.8 L448.7,339.7 L449.2,339.6 L449.7,339.5 L450.2,339.3 L450.7,338.9 L451.2,338.3 L451.7,337.6 L452.2,336.7 L452.7,335.9 L453.2,334.7 L453.7,333.4 L454.2,332.3 L454.7,331.4 L455.2,330.8 L455.7,330.1 L456.2,329.5 L456.7,328.5 L457.2,327.4 L457.7,326.5 L458.2,326.3 L458.7,327.1 L459.2,328.6 L459.7,329.7 L460.2,329.9 L460.7,329.4 L461.2,328.5 L461.7,327.6 L462.2,327.0 L462.7,327.0 L463.2,328.2 L463.7,329.9 L464.2,331.1 L464.7,331.0 L465.2,330.0 L465.7,328.8 L466.2,328.1 L466.7,328.8 L467.2,330.7 L467.7,332.5 L468.2,333.1 L468.7,332.7 L469.2,332.1 L469.7,331.3 L470.2,330.8 L470.7,330.6 L471.2,331.7 L471.7,333.6 L472.2,335.5 L472.7,336.6 L473.2,337.3 L473.7,337.8 L474.2,338.4 L474.7,339.4 L475.2,340.9 L475.7,342.4 L476.2,343.1 L476.7,342.9 L477.2,342.3 L477.7,341.4 L478.2,340.6 L478.7,340.0 L479.2,339.7 L479.7,339.3 L480.2,339.0 L480.7,338.8 L481.2,338.8 L481.7,338.8 L482.2,339.0 L482.7,339.2 L483.2,339.3 L483.7,339.4 L484.2,339.4 L484.7,339.3 L485.2,339.2 L485.7,339.0 L486.2,338.8 L486.7,338.2 L487.2,337.0 L487.7,335.9 L488.2,335.6 L488.7,336.9 L489.2,339.1 L489.7,340.9 L490.2,341.2 L490.7,341.1 L491.2,340.9 L491.7,340.8 L492.2,340.6 L492.7,340.6 L493.2,341.1 L493.7,341.8 L494.2,342.5 L494.7,343.0 L495.2,343.1 L495.7,343.0 L496.2,342.8 L496.7,342.6 L497.2,342.5 L497.7,342.5 L498.2,342.6 L498.7,342.8 L499.2,343.0 L499.7,343.1 L500.2,343.1 L500.7,342.9 L501.2,342.5 L501.7,342.0 L502.2,341.5 L502.7,341.1 L503.2,340.6 L503.7,340.1 L504.2,339.6 L504.7,339.1 L505.2,338.6 L505.7,338.1 L506.2,337.7 L506.7,337.2 L507.2,336.7 L507.7,335.9 L508.2,334.3 L508.7,332.2 L509.2,330.3 L509.7,329.0 L510.2,328.9 L510.7,330.3 L511.2,332.2 L511.7,333.6 L512.2,333.6 L512.7,332.8 L513.2,331.8 L513.7,331.3 L514.2,332.1 L514.7,334.3 L515.2,336.6 L515.7,337.6 L516.2,337.9 L516.7,338.1 L517.2,338.3 L517.7,338.4 L518.2,338.5 L518.7,338.7 L519.2,339.0 L519.7,339.2 L520.2,339.5 L520.7,339.8 L521.2,340.0 L521.7,340.2 L522.2,340.4 L522.7,340.6 L523.2,340.8 L523.7,341.0 L524.2,341.2 L524.7,341.2 L525.2,341.2 L525.7,340.9 L526.2,340.4 L526.7,339.8 L527.2,339.3 L527.7,338.9 L528.2,338.8 L528.7,339.0 L529.2,339.5 L529.7,339.9 L530.2,339.8 L530.7,337.9 L531.2,335.2 L531.7,333.3 L532.2,333.4 L532.7,334.5 L533.2,334.8 L533.7,330.6 L534.2,323.4 L534.7,317.5 L535.2,316.6 L535.7,319.7 L536.2,324.0 L536.7,327.2 L537.2,325.7 L537.7,317.8 L538.2,309.9 L538.7,308.7 L539.2,313.6 L539.7,320.1 L540.2,323.7 L540.7,320.1 L541.2,311.5 L541.7,304.6 L542.2,304.7 L542.7,309.0 L543.2,314.7 L543.7,319.1 L544.2,319.4 L544.7,314.1 L545.2,307.8 L545.7,305.7 L546.2,309.1 L546.7,315.0 L547.2,320.8 L547.7,323.7 L548.2,322.1 L548.7,318.0 L549.2,313.6 L549.7,311.3 L550.2,312.7 L550.7,316.7 L551.2,321.1 L551.7,324.1 L552.2,323.7 L552.7,320.1 L553.2,315.5 L553.7,312.0 L554.2,311.6 L554.7,315.1 L555.2,320.5 L555.7,325.6 L556.2,328.1 L556.7,327.5 L557.2,325.8 L557.7,323.8 L558.2,322.3 L558.7,320.9 L559.2,319.7 L559.7,318.9 L560.2,319.0 L560.7,320.6 L561.2,321.9 L561.7,320.0 L562.2,315.8 L562.7,313.1 L563.2,313.4 L563.7,314.3 L564.2,315.1 L564.7,315.6 L565.2,314.9 L565.7,313.0 L566.2,310.9 L566.7,309.6 L567.2,309.6 L567.7,310.8 L568.2,312.5 L568.7,314.2 L569.2,316.3 L569.7,318.7 L570.2,320.0 L570.7,319.2 L571.2,316.9 L571.7,314.2 L572.2,312.3 L572.7,312.2 L573.2,314.7 L573.5,316.9"/>
</g>
<g class="axis">
<line x1="55.0" y1="355.65" x2="588.6" y2="355.65"/>
<line x1="55.0" y1="30.3" x2="55.0" y2="355.65"/>
<line x1="70.00" y1="355.65" x2="70.00" y2="350.65"/>
<line x1="167.10" y1="355.65" x2="167.10" y2="350.65"/>
<line x1="264.20" y1="355.65" x2="264.20" y2="350.65"/>
<line x1="361.30" y1="355.65" x2="361.30" y2="350.65"/>
<line x1="458.40" y1="355.65" x2="458.40" y2="350.65"/>
<line x1="555.50" y1="355.65" x2="555.50" y2="350.65"/>
<line x1="55.0" y1="346.50" x2="60.00" y2="346.50"/>
<line x1="55.0" y1="295.00" x2="60.00" y2="295.00"/>
<line x1="55.0" y1="243.50" x2="60.00" y2="243.50"/>
<line x1="55.0" y1="192.00" x2="60.00" y2="192.00"/>
<line x1="55.0" y1="140.50" x2="60.00" y2="140.50"/>
<line x1="55.0" y1="89.00" x2="60.00" y2="89.00"/>
<line x1="55.0" y1="37.50" x2="60.00" y2="37.50"/>
</g>
<g font-size="11.65" text-anchor="middle">
<text x="70.00" y="371.4">0</text>
<text x="167.10" y="371.4">50</text>
<text x="264.20" y="371.4">100</text>
<text x="361.30" y="371.4">150</text>
<text x="458.40" y="371.4">200</text>
<text x="555.50" y="371.4">250</text>
</g>
<g font-size="11.65" text-anchor="end">
<text x="46.6" y="350.85">0.0</text>
<text x="46.6" y="299.35">0.1</text>
<text x="46.6" y="247.85">0.2</text>
<text x="46.6" y="196.35">0.3</text>
<text x="46.6" y="144.85">0.4</text>
<text x="46.6" y="93.35">0.5</text>
<text x="46.6" y="41.85">0.6</text>
</g>
<text x="321.9" y="391.8" font-size="16.3" text-anchor="middle">Time</text>
<text transform="translate(16.0,193.5) rotate(-90)" font-size="16.3" text-anchor="middle">Energy</text>
<text x="321.2" y="18.0" font-size="20.76" text-anchor="middle">Energy Over Time for Modes 1, 3, 5, 7, 9, 11, 13</text>
<rect x="468.0" y="41.4" width="102.5" height="103.9" fill="#ffffff" stroke="#000" stroke-width="1"/>
<line x1="473.6" y1="54.45" x2="509.7" y2="54.45" stroke="#009AFA" stroke-width="1.08"/>
<text x="514.2" y="58.75" font-size="11.95">Mode 1</text>
<line x1="473.6" y1="67.44" x2="509.7" y2="67.44" stroke="#E36F47" stroke-width="1.08"/>
<text x="514.2" y="71.74" font-size="11.95">Mode 3</text>
<line x1="473.6" y1="80.43" x2="509.7" y2="80.43" stroke="#3EA44E" stroke-width="1.08"/>
<text x="514.2" y="84.73" font-size="11.95">Mode 5</text>
<line x1="473.6" y1="93.42" x2="509.7" y2="93.42" stroke="#C371D2" stroke-width="1.08"/>
<text x="514.2" y="97.72" font-size="11.95">Mode 7</text>
<line x1="473.6" y1="106.41" x2="509.7" y2="106.41" stroke="#AC8E18" stroke-width="1.08"/>
<text x="514.2" y="110.71" font-size="11.95">Mode 9</text>
<line x1="473.6" y1="119.40" x2="509.7" y2="119.40" stroke="#00A9AD" stroke-width="1.08"/>
<text x="514.2" y="123.70" font-size="11.95">Mode 11</text>
<line x1="473.6" y1="132.39" x2="509.7" y2="132.39" stroke="#ED5E93" stroke-width="1.08"/>
<text x="514.2" y="136.69" font-size="11.95">Mode 13</text>
</svg>
</body></html>
